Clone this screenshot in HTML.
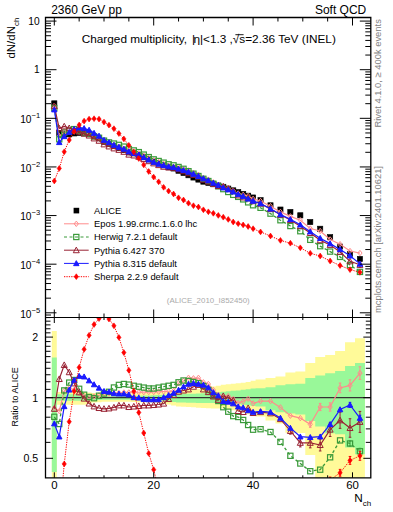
<!DOCTYPE html><html><head><meta charset="utf-8"><style>html,body{margin:0;padding:0;background:#fff;}svg{display:block;font-family:"Liberation Sans",sans-serif;}</style></head><body>
<svg width="393" height="512" viewBox="0 0 393 512">
<defs><clipPath id="cm"><rect x="45.5" y="17.5" width="325.3" height="300.0"/></clipPath>
<clipPath id="cr"><rect x="45.5" y="317.5" width="325.3" height="160.3"/></clipPath></defs>
<g clip-path="url(#cr)">
<path d="M51.81 330.90L56.78 330.90L56.78 392.10L61.75 392.10L61.75 392.10L66.72 392.10L66.72 392.10L71.69 392.10L71.69 392.10L76.66 392.10L76.66 392.10L81.63 392.10L81.63 392.10L86.60 392.10L86.60 392.55L91.57 392.55L91.57 393.00L96.54 393.00L96.54 393.25L101.51 393.25L101.51 393.50L106.48 393.50L106.48 393.50L111.45 393.50L111.45 393.50L116.42 393.50L116.42 393.50L121.39 393.50L121.39 393.50L126.36 393.50L126.36 393.50L131.33 393.50L131.33 393.30L136.31 393.30L136.31 393.10L141.27 393.10L141.27 392.90L146.25 392.90L146.25 392.70L151.21 392.70L151.21 392.50L156.19 392.50L156.19 392.00L161.15 392.00L161.15 391.50L166.12 391.50L166.12 391.17L171.09 391.17L171.09 390.83L176.06 390.83L176.06 390.50L181.03 390.50L181.03 390.21L186.00 390.21L186.00 389.93L190.97 389.93L190.97 389.64L195.94 389.64L195.94 389.08L200.91 389.08L200.91 388.25L205.88 388.25L205.88 387.42L210.85 387.42L210.85 386.56L215.82 386.56L215.82 385.68L220.80 385.68L220.80 384.80L225.76 384.80L225.76 384.30L230.74 384.30L230.74 383.80L235.70 383.80L235.70 383.30L240.68 383.30L240.68 382.77L245.64 382.77L245.64 381.93L250.62 381.93L250.62 380.80L255.58 380.80L255.58 379.40L265.52 379.40L265.52 378.00L275.46 378.00L275.46 376.50L285.40 376.50L285.40 372.60L295.34 372.60L295.34 371.50L305.28 371.50L305.28 363.10L315.23 363.10L315.23 357.10L325.17 357.10L325.17 354.90L335.11 354.90L335.11 351.10L345.05 351.10L345.05 342.30L354.99 342.30L354.99 338.30L364.93 338.30L364.93 479.80L354.99 479.80L354.99 479.80L345.05 479.80L345.05 479.80L335.11 479.80L335.11 479.80L325.17 479.80L325.17 479.80L315.23 479.80L315.23 455.00L305.28 455.00L305.28 433.00L295.34 433.00L295.34 432.70L285.40 432.70L285.40 423.50L275.46 423.50L275.46 420.40L265.52 420.40L265.52 416.40L255.58 416.40L255.58 416.00L250.62 416.00L250.62 414.20L245.64 414.20L245.64 412.53L240.68 412.53L240.68 411.00L235.70 411.00L235.70 410.17L230.74 410.17L230.74 409.33L225.76 409.33L225.76 408.50L220.80 408.50L220.80 408.50L215.82 408.50L215.82 408.50L210.85 408.50L210.85 408.33L205.88 408.33L205.88 408.00L200.91 408.00L200.91 407.67L195.94 407.67L195.94 407.34L190.97 407.34L190.97 407.03L186.00 407.03L186.00 406.71L181.03 406.71L181.03 406.40L176.06 406.40L176.06 405.43L171.09 405.43L171.09 404.47L166.12 404.47L166.12 403.50L161.15 403.50L161.15 403.15L156.19 403.15L156.19 402.80L151.21 402.80L151.21 402.60L146.25 402.60L146.25 402.40L141.27 402.40L141.27 402.20L136.31 402.20L136.31 402.00L131.33 402.00L131.33 401.80L126.36 401.80L126.36 401.80L121.39 401.80L121.39 401.80L116.42 401.80L116.42 401.80L111.45 401.80L111.45 401.80L106.48 401.80L106.48 401.80L101.51 401.80L101.51 402.15L96.54 402.15L96.54 402.50L91.57 402.50L91.57 403.65L86.60 403.65L86.60 404.80L81.63 404.80L81.63 404.80L76.66 404.80L76.66 404.80L71.69 404.80L71.69 404.80L66.72 404.80L66.72 404.80L61.75 404.80L61.75 404.80L56.78 404.80L56.78 479.80L51.81 479.80Z" fill="#fffa99"/>
<path d="M51.81 357.60L56.78 357.60L56.78 394.20L61.75 394.20L61.75 394.20L66.72 394.20L66.72 394.20L71.69 394.20L71.69 394.20L76.66 394.20L76.66 394.20L81.63 394.20L81.63 394.20L86.60 394.20L86.60 394.85L91.57 394.85L91.57 395.50L96.54 395.50L96.54 395.85L101.51 395.85L101.51 396.20L106.48 396.20L106.48 396.20L111.45 396.20L111.45 396.20L116.42 396.20L116.42 396.20L121.39 396.20L121.39 396.20L126.36 396.20L126.36 396.20L131.33 396.20L131.33 396.00L136.31 396.00L136.31 395.80L141.27 395.80L141.27 395.60L146.25 395.60L146.25 395.40L151.21 395.40L151.21 395.20L156.19 395.20L156.19 395.00L161.15 395.00L161.15 394.80L166.12 394.80L166.12 394.43L171.09 394.43L171.09 394.07L176.06 394.07L176.06 393.70L181.03 393.70L181.03 393.70L186.00 393.70L186.00 393.70L190.97 393.70L190.97 393.70L195.94 393.70L195.94 393.58L200.91 393.58L200.91 393.35L205.88 393.35L205.88 393.12L210.85 393.12L210.85 392.74L215.82 392.74L215.82 392.22L220.80 392.22L220.80 391.70L225.76 391.70L225.76 391.27L230.74 391.27L230.74 390.83L235.70 390.83L235.70 390.40L240.68 390.40L240.68 389.80L245.64 389.80L245.64 389.13L250.62 389.13L250.62 388.40L255.58 388.40L255.58 388.20L265.52 388.20L265.52 387.20L275.46 387.20L275.46 385.30L285.40 385.30L285.40 384.30L295.34 384.30L295.34 383.70L305.28 383.70L305.28 378.10L315.23 378.10L315.23 375.50L325.17 375.50L325.17 373.30L335.11 373.30L335.11 371.00L345.05 371.00L345.05 366.00L354.99 366.00L354.99 363.10L364.93 363.10L364.93 454.20L354.99 454.20L354.99 447.60L345.05 447.60L345.05 434.30L335.11 434.30L335.11 433.20L325.17 433.20L325.17 426.60L315.23 426.60L315.23 421.00L305.28 421.00L305.28 414.40L295.34 414.40L295.34 413.50L285.40 413.50L285.40 412.30L275.46 412.30L275.46 410.30L265.52 410.30L265.52 406.50L255.58 406.50L255.58 406.00L250.62 406.00L250.62 405.33L245.64 405.33L245.64 404.67L240.68 404.67L240.68 404.00L235.70 404.00L235.70 403.50L230.74 403.50L230.74 403.00L225.76 403.00L225.76 402.50L220.80 402.50L220.80 402.70L215.82 402.70L215.82 402.90L210.85 402.90L210.85 402.98L205.88 402.98L205.88 402.95L200.91 402.95L200.91 402.92L195.94 402.92L195.94 402.84L190.97 402.84L190.97 402.73L186.00 402.73L186.00 402.61L181.03 402.61L181.03 402.50L176.06 402.50L176.06 401.93L171.09 401.93L171.09 401.37L166.12 401.37L166.12 400.80L161.15 400.80L161.15 400.55L156.19 400.55L156.19 400.30L151.21 400.30L151.21 400.20L146.25 400.20L146.25 400.10L141.27 400.10L141.27 400.00L136.31 400.00L136.31 399.90L131.33 399.90L131.33 399.80L126.36 399.80L126.36 399.80L121.39 399.80L121.39 399.80L116.42 399.80L116.42 399.80L111.45 399.80L111.45 399.80L106.48 399.80L106.48 399.80L101.51 399.80L101.51 399.90L96.54 399.90L96.54 400.00L91.57 400.00L91.57 400.40L86.60 400.40L86.60 400.80L81.63 400.80L81.63 400.80L76.66 400.80L76.66 400.80L71.69 400.80L71.69 400.80L66.72 400.80L66.72 400.80L61.75 400.80L61.75 400.80L56.78 400.80L56.78 472.00L51.81 472.00Z" fill="#99f899"/>
<line x1="45.5" y1="397.70" x2="370.8" y2="397.70" stroke="#333" stroke-width="1.2"/>
</g>
<g clip-path="url(#cr)">
<polyline points="54.30,408.00 59.27,411.00 64.24,390.90 69.21,388.00 74.18,390.00 79.15,393.00 84.12,396.00 89.09,397.00 94.06,396.50 99.03,395.50 104.00,394.00 108.97,393.62 113.94,393.25 118.91,392.88 123.88,392.50 128.85,392.42 133.82,392.33 138.79,392.25 143.76,392.17 148.73,392.08 153.70,392.00 158.67,391.75 163.64,391.50 168.61,391.25 173.58,391.00 178.55,383.20 183.52,381.00 188.49,377.80 193.46,378.30 198.43,377.80 203.40,382.30 208.37,384.00 213.34,390.00 218.31,394.70 223.28,396.00 228.25,396.00 233.22,399.00 238.19,403.00 243.16,401.40 248.13,398.80 253.10,403.40 260.56,401.10 270.50,401.10 280.44,407.40 290.38,415.70 300.31,418.10 310.25,424.30 320.19,407.00 330.13,407.00 340.07,387.90 350.01,385.40 359.95,373.10" fill="none" stroke="#ff8c8c" stroke-width="1.2"/>
<path d="M310.25 421.29V427.31M308.95 421.29H311.56M308.95 427.31H311.56M320.19 403.43V410.57M318.89 403.43H321.50M318.89 410.57H321.50M330.13 402.87V411.13M328.83 402.87H331.44M328.83 411.13H331.44M340.07 383.07V392.73M338.77 383.07H341.38M338.77 392.73H341.38M350.01 379.82V390.98M348.71 379.82H351.31M348.71 390.98H351.31M359.95 366.78V379.42M358.65 366.78H361.25M358.65 379.42H361.25" stroke="#ff8c8c" stroke-width="1" fill="none"/>
<path d="M54.30 405.30L56.40 408.00L54.30 410.70L52.20 408.00Z" fill="none" stroke="#ff8c8c" stroke-width="1"/>
<path d="M59.27 408.30L61.37 411.00L59.27 413.70L57.17 411.00Z" fill="none" stroke="#ff8c8c" stroke-width="1"/>
<path d="M64.24 388.20L66.34 390.90L64.24 393.60L62.14 390.90Z" fill="none" stroke="#ff8c8c" stroke-width="1"/>
<path d="M69.21 385.30L71.31 388.00L69.21 390.70L67.11 388.00Z" fill="none" stroke="#ff8c8c" stroke-width="1"/>
<path d="M74.18 387.30L76.28 390.00L74.18 392.70L72.08 390.00Z" fill="none" stroke="#ff8c8c" stroke-width="1"/>
<path d="M79.15 390.30L81.25 393.00L79.15 395.70L77.05 393.00Z" fill="none" stroke="#ff8c8c" stroke-width="1"/>
<path d="M84.12 393.30L86.22 396.00L84.12 398.70L82.02 396.00Z" fill="none" stroke="#ff8c8c" stroke-width="1"/>
<path d="M89.09 394.30L91.19 397.00L89.09 399.70L86.99 397.00Z" fill="none" stroke="#ff8c8c" stroke-width="1"/>
<path d="M94.06 393.80L96.16 396.50L94.06 399.20L91.96 396.50Z" fill="none" stroke="#ff8c8c" stroke-width="1"/>
<path d="M99.03 392.80L101.13 395.50L99.03 398.20L96.93 395.50Z" fill="none" stroke="#ff8c8c" stroke-width="1"/>
<path d="M104.00 391.30L106.10 394.00L104.00 396.70L101.90 394.00Z" fill="none" stroke="#ff8c8c" stroke-width="1"/>
<path d="M108.97 390.93L111.07 393.62L108.97 396.32L106.87 393.62Z" fill="none" stroke="#ff8c8c" stroke-width="1"/>
<path d="M113.94 390.55L116.04 393.25L113.94 395.95L111.84 393.25Z" fill="none" stroke="#ff8c8c" stroke-width="1"/>
<path d="M118.91 390.18L121.01 392.88L118.91 395.57L116.81 392.88Z" fill="none" stroke="#ff8c8c" stroke-width="1"/>
<path d="M123.88 389.80L125.98 392.50L123.88 395.20L121.78 392.50Z" fill="none" stroke="#ff8c8c" stroke-width="1"/>
<path d="M128.85 389.72L130.95 392.42L128.85 395.12L126.75 392.42Z" fill="none" stroke="#ff8c8c" stroke-width="1"/>
<path d="M133.82 389.63L135.92 392.33L133.82 395.03L131.72 392.33Z" fill="none" stroke="#ff8c8c" stroke-width="1"/>
<path d="M138.79 389.55L140.89 392.25L138.79 394.95L136.69 392.25Z" fill="none" stroke="#ff8c8c" stroke-width="1"/>
<path d="M143.76 389.47L145.86 392.17L143.76 394.87L141.66 392.17Z" fill="none" stroke="#ff8c8c" stroke-width="1"/>
<path d="M148.73 389.38L150.83 392.08L148.73 394.78L146.63 392.08Z" fill="none" stroke="#ff8c8c" stroke-width="1"/>
<path d="M153.70 389.30L155.80 392.00L153.70 394.70L151.60 392.00Z" fill="none" stroke="#ff8c8c" stroke-width="1"/>
<path d="M158.67 389.05L160.77 391.75L158.67 394.45L156.57 391.75Z" fill="none" stroke="#ff8c8c" stroke-width="1"/>
<path d="M163.64 388.80L165.74 391.50L163.64 394.20L161.54 391.50Z" fill="none" stroke="#ff8c8c" stroke-width="1"/>
<path d="M168.61 388.55L170.71 391.25L168.61 393.95L166.51 391.25Z" fill="none" stroke="#ff8c8c" stroke-width="1"/>
<path d="M173.58 388.30L175.68 391.00L173.58 393.70L171.48 391.00Z" fill="none" stroke="#ff8c8c" stroke-width="1"/>
<path d="M178.55 380.50L180.65 383.20L178.55 385.90L176.45 383.20Z" fill="none" stroke="#ff8c8c" stroke-width="1"/>
<path d="M183.52 378.30L185.62 381.00L183.52 383.70L181.42 381.00Z" fill="none" stroke="#ff8c8c" stroke-width="1"/>
<path d="M188.49 375.10L190.59 377.80L188.49 380.50L186.39 377.80Z" fill="none" stroke="#ff8c8c" stroke-width="1"/>
<path d="M193.46 375.60L195.56 378.30L193.46 381.00L191.36 378.30Z" fill="none" stroke="#ff8c8c" stroke-width="1"/>
<path d="M198.43 375.10L200.53 377.80L198.43 380.50L196.33 377.80Z" fill="none" stroke="#ff8c8c" stroke-width="1"/>
<path d="M203.40 379.60L205.50 382.30L203.40 385.00L201.30 382.30Z" fill="none" stroke="#ff8c8c" stroke-width="1"/>
<path d="M208.37 381.30L210.47 384.00L208.37 386.70L206.27 384.00Z" fill="none" stroke="#ff8c8c" stroke-width="1"/>
<path d="M213.34 387.30L215.44 390.00L213.34 392.70L211.24 390.00Z" fill="none" stroke="#ff8c8c" stroke-width="1"/>
<path d="M218.31 392.00L220.41 394.70L218.31 397.40L216.21 394.70Z" fill="none" stroke="#ff8c8c" stroke-width="1"/>
<path d="M223.28 393.30L225.38 396.00L223.28 398.70L221.18 396.00Z" fill="none" stroke="#ff8c8c" stroke-width="1"/>
<path d="M228.25 393.30L230.35 396.00L228.25 398.70L226.15 396.00Z" fill="none" stroke="#ff8c8c" stroke-width="1"/>
<path d="M233.22 396.30L235.32 399.00L233.22 401.70L231.12 399.00Z" fill="none" stroke="#ff8c8c" stroke-width="1"/>
<path d="M238.19 400.30L240.29 403.00L238.19 405.70L236.09 403.00Z" fill="none" stroke="#ff8c8c" stroke-width="1"/>
<path d="M243.16 398.70L245.26 401.40L243.16 404.10L241.06 401.40Z" fill="none" stroke="#ff8c8c" stroke-width="1"/>
<path d="M248.13 396.10L250.23 398.80L248.13 401.50L246.03 398.80Z" fill="none" stroke="#ff8c8c" stroke-width="1"/>
<path d="M253.10 400.70L255.20 403.40L253.10 406.10L251.00 403.40Z" fill="none" stroke="#ff8c8c" stroke-width="1"/>
<path d="M260.56 398.40L262.66 401.10L260.56 403.80L258.45 401.10Z" fill="none" stroke="#ff8c8c" stroke-width="1"/>
<path d="M270.50 398.40L272.60 401.10L270.50 403.80L268.39 401.10Z" fill="none" stroke="#ff8c8c" stroke-width="1"/>
<path d="M280.44 404.70L282.54 407.40L280.44 410.10L278.33 407.40Z" fill="none" stroke="#ff8c8c" stroke-width="1"/>
<path d="M290.38 413.00L292.48 415.70L290.38 418.40L288.27 415.70Z" fill="none" stroke="#ff8c8c" stroke-width="1"/>
<path d="M300.31 415.40L302.42 418.10L300.31 420.80L298.21 418.10Z" fill="none" stroke="#ff8c8c" stroke-width="1"/>
<path d="M310.25 421.60L312.36 424.30L310.25 427.00L308.15 424.30Z" fill="none" stroke="#ff8c8c" stroke-width="1"/>
<path d="M320.19 404.30L322.30 407.00L320.19 409.70L318.09 407.00Z" fill="none" stroke="#ff8c8c" stroke-width="1"/>
<path d="M330.13 404.30L332.24 407.00L330.13 409.70L328.03 407.00Z" fill="none" stroke="#ff8c8c" stroke-width="1"/>
<path d="M340.07 385.20L342.18 387.90L340.07 390.60L337.97 387.90Z" fill="none" stroke="#ff8c8c" stroke-width="1"/>
<path d="M350.01 382.70L352.12 385.40L350.01 388.10L347.91 385.40Z" fill="none" stroke="#ff8c8c" stroke-width="1"/>
<path d="M359.95 370.40L362.06 373.10L359.95 375.80L357.85 373.10Z" fill="none" stroke="#ff8c8c" stroke-width="1"/>
<polyline points="54.30,416.80 59.27,424.00 64.24,390.40 69.21,382.60 74.18,380.00 79.15,388.80 84.12,394.70 89.09,397.00 94.06,398.20 99.03,395.70 104.00,393.50 108.97,391.80 113.94,387.50 118.91,384.90 123.88,384.00 128.85,384.60 133.82,385.80 138.79,386.70 143.76,387.60 148.73,388.50 153.70,388.50 158.67,387.60 163.64,386.70 168.61,385.80 173.58,384.90 178.55,382.30 183.52,380.50 188.49,381.00 193.46,382.00 198.43,383.20 203.40,386.00 208.37,390.00 213.34,395.60 218.31,401.00 223.28,407.20 228.25,411.70 233.22,416.10 238.19,417.00 243.16,420.00 248.13,425.00 253.10,429.70 260.56,429.20 270.50,432.00 280.44,441.90 290.38,455.80 300.31,463.50 310.25,471.20 320.19,469.70 330.13,457.30 340.07,440.40 350.01,443.50 359.95,451.20" fill="none" stroke="#3a9a3a" stroke-width="1.3" stroke-dasharray="3,2.5"/>
<path d="M350.01 440.94V446.06M348.71 440.94H351.31M348.71 446.06H351.31M359.95 448.30V454.10M358.65 448.30H361.25M358.65 454.10H361.25" stroke="#3a9a3a" stroke-width="1" fill="none"/>
<rect x="51.70" y="414.20" width="5.20" height="5.20" fill="none" stroke="#3a9a3a" stroke-width="1.2"/>
<rect x="56.67" y="421.40" width="5.20" height="5.20" fill="none" stroke="#3a9a3a" stroke-width="1.2"/>
<rect x="61.64" y="387.80" width="5.20" height="5.20" fill="none" stroke="#3a9a3a" stroke-width="1.2"/>
<rect x="66.61" y="380.00" width="5.20" height="5.20" fill="none" stroke="#3a9a3a" stroke-width="1.2"/>
<rect x="71.58" y="377.40" width="5.20" height="5.20" fill="none" stroke="#3a9a3a" stroke-width="1.2"/>
<rect x="76.55" y="386.20" width="5.20" height="5.20" fill="none" stroke="#3a9a3a" stroke-width="1.2"/>
<rect x="81.52" y="392.10" width="5.20" height="5.20" fill="none" stroke="#3a9a3a" stroke-width="1.2"/>
<rect x="86.49" y="394.40" width="5.20" height="5.20" fill="none" stroke="#3a9a3a" stroke-width="1.2"/>
<rect x="91.46" y="395.60" width="5.20" height="5.20" fill="none" stroke="#3a9a3a" stroke-width="1.2"/>
<rect x="96.43" y="393.10" width="5.20" height="5.20" fill="none" stroke="#3a9a3a" stroke-width="1.2"/>
<rect x="101.40" y="390.90" width="5.20" height="5.20" fill="none" stroke="#3a9a3a" stroke-width="1.2"/>
<rect x="106.37" y="389.20" width="5.20" height="5.20" fill="none" stroke="#3a9a3a" stroke-width="1.2"/>
<rect x="111.34" y="384.90" width="5.20" height="5.20" fill="none" stroke="#3a9a3a" stroke-width="1.2"/>
<rect x="116.31" y="382.30" width="5.20" height="5.20" fill="none" stroke="#3a9a3a" stroke-width="1.2"/>
<rect x="121.28" y="381.40" width="5.20" height="5.20" fill="none" stroke="#3a9a3a" stroke-width="1.2"/>
<rect x="126.25" y="382.00" width="5.20" height="5.20" fill="none" stroke="#3a9a3a" stroke-width="1.2"/>
<rect x="131.22" y="383.20" width="5.20" height="5.20" fill="none" stroke="#3a9a3a" stroke-width="1.2"/>
<rect x="136.19" y="384.10" width="5.20" height="5.20" fill="none" stroke="#3a9a3a" stroke-width="1.2"/>
<rect x="141.16" y="385.00" width="5.20" height="5.20" fill="none" stroke="#3a9a3a" stroke-width="1.2"/>
<rect x="146.13" y="385.90" width="5.20" height="5.20" fill="none" stroke="#3a9a3a" stroke-width="1.2"/>
<rect x="151.10" y="385.90" width="5.20" height="5.20" fill="none" stroke="#3a9a3a" stroke-width="1.2"/>
<rect x="156.07" y="385.00" width="5.20" height="5.20" fill="none" stroke="#3a9a3a" stroke-width="1.2"/>
<rect x="161.04" y="384.10" width="5.20" height="5.20" fill="none" stroke="#3a9a3a" stroke-width="1.2"/>
<rect x="166.01" y="383.20" width="5.20" height="5.20" fill="none" stroke="#3a9a3a" stroke-width="1.2"/>
<rect x="170.98" y="382.30" width="5.20" height="5.20" fill="none" stroke="#3a9a3a" stroke-width="1.2"/>
<rect x="175.95" y="379.70" width="5.20" height="5.20" fill="none" stroke="#3a9a3a" stroke-width="1.2"/>
<rect x="180.92" y="377.90" width="5.20" height="5.20" fill="none" stroke="#3a9a3a" stroke-width="1.2"/>
<rect x="185.89" y="378.40" width="5.20" height="5.20" fill="none" stroke="#3a9a3a" stroke-width="1.2"/>
<rect x="190.86" y="379.40" width="5.20" height="5.20" fill="none" stroke="#3a9a3a" stroke-width="1.2"/>
<rect x="195.83" y="380.60" width="5.20" height="5.20" fill="none" stroke="#3a9a3a" stroke-width="1.2"/>
<rect x="200.80" y="383.40" width="5.20" height="5.20" fill="none" stroke="#3a9a3a" stroke-width="1.2"/>
<rect x="205.77" y="387.40" width="5.20" height="5.20" fill="none" stroke="#3a9a3a" stroke-width="1.2"/>
<rect x="210.74" y="393.00" width="5.20" height="5.20" fill="none" stroke="#3a9a3a" stroke-width="1.2"/>
<rect x="215.71" y="398.40" width="5.20" height="5.20" fill="none" stroke="#3a9a3a" stroke-width="1.2"/>
<rect x="220.68" y="404.60" width="5.20" height="5.20" fill="none" stroke="#3a9a3a" stroke-width="1.2"/>
<rect x="225.65" y="409.10" width="5.20" height="5.20" fill="none" stroke="#3a9a3a" stroke-width="1.2"/>
<rect x="230.62" y="413.50" width="5.20" height="5.20" fill="none" stroke="#3a9a3a" stroke-width="1.2"/>
<rect x="235.59" y="414.40" width="5.20" height="5.20" fill="none" stroke="#3a9a3a" stroke-width="1.2"/>
<rect x="240.56" y="417.40" width="5.20" height="5.20" fill="none" stroke="#3a9a3a" stroke-width="1.2"/>
<rect x="245.53" y="422.40" width="5.20" height="5.20" fill="none" stroke="#3a9a3a" stroke-width="1.2"/>
<rect x="250.50" y="427.10" width="5.20" height="5.20" fill="none" stroke="#3a9a3a" stroke-width="1.2"/>
<rect x="257.95" y="426.60" width="5.20" height="5.20" fill="none" stroke="#3a9a3a" stroke-width="1.2"/>
<rect x="267.89" y="429.40" width="5.20" height="5.20" fill="none" stroke="#3a9a3a" stroke-width="1.2"/>
<rect x="277.83" y="439.30" width="5.20" height="5.20" fill="none" stroke="#3a9a3a" stroke-width="1.2"/>
<rect x="287.77" y="453.20" width="5.20" height="5.20" fill="none" stroke="#3a9a3a" stroke-width="1.2"/>
<rect x="297.71" y="460.90" width="5.20" height="5.20" fill="none" stroke="#3a9a3a" stroke-width="1.2"/>
<rect x="307.65" y="468.60" width="5.20" height="5.20" fill="none" stroke="#3a9a3a" stroke-width="1.2"/>
<rect x="317.59" y="467.10" width="5.20" height="5.20" fill="none" stroke="#3a9a3a" stroke-width="1.2"/>
<rect x="327.53" y="454.70" width="5.20" height="5.20" fill="none" stroke="#3a9a3a" stroke-width="1.2"/>
<rect x="337.47" y="437.80" width="5.20" height="5.20" fill="none" stroke="#3a9a3a" stroke-width="1.2"/>
<rect x="347.41" y="440.90" width="5.20" height="5.20" fill="none" stroke="#3a9a3a" stroke-width="1.2"/>
<rect x="357.35" y="448.60" width="5.20" height="5.20" fill="none" stroke="#3a9a3a" stroke-width="1.2"/>
<polyline points="54.30,408.80 59.27,379.00 64.24,365.00 69.21,372.20 74.18,383.40 79.15,392.30 84.12,398.60 89.09,403.50 94.06,406.40 99.03,408.00 104.00,408.80 108.97,408.40 113.94,407.40 118.91,405.40 123.88,405.40 128.85,407.00 133.82,406.50 138.79,406.00 143.76,405.40 148.73,405.40 153.70,405.00 158.67,404.50 163.64,403.60 168.61,399.00 173.58,395.00 178.55,391.70 183.52,390.50 188.49,389.40 193.46,386.70 198.43,384.90 203.40,389.40 208.37,392.10 213.34,396.50 218.31,399.80 223.28,396.00 228.25,398.00 233.22,400.40 238.19,411.00 243.16,412.00 248.13,408.00 253.10,413.00 260.56,412.10 270.50,413.30 280.44,419.10 290.38,431.00 300.31,442.80 310.25,442.80 320.19,445.00 330.13,429.60 340.07,420.30 350.01,428.00 359.95,421.90" fill="none" stroke="#992233" stroke-width="1.15"/>
<path d="M290.38 427.84V434.16M289.07 427.84H291.68M289.07 434.16H291.68M300.31 438.69V446.91M299.01 438.69H301.62M299.01 446.91H301.62M310.25 437.75V447.85M308.95 437.75H311.56M308.95 447.85H311.56M320.19 439.02V450.98M318.89 439.02H321.50M318.89 450.98H321.50M330.13 422.70V436.50M328.83 422.70H331.44M328.83 436.50H331.44M340.07 412.24V428.36M338.77 412.24H341.38M338.77 428.36H341.38M350.01 418.72V437.28M348.71 418.72H351.31M348.71 437.28H351.31M359.95 411.41V432.39M358.65 411.41H361.25M358.65 432.39H361.25" stroke="#992233" stroke-width="1" fill="none"/>
<path d="M54.30 405.72L51.30 411.32L57.30 411.32Z" fill="none" stroke="#992233" stroke-width="1"/>
<path d="M59.27 375.92L56.27 381.52L62.27 381.52Z" fill="none" stroke="#992233" stroke-width="1"/>
<path d="M64.24 361.92L61.24 367.52L67.24 367.52Z" fill="none" stroke="#992233" stroke-width="1"/>
<path d="M69.21 369.12L66.21 374.72L72.21 374.72Z" fill="none" stroke="#992233" stroke-width="1"/>
<path d="M74.18 380.32L71.18 385.92L77.18 385.92Z" fill="none" stroke="#992233" stroke-width="1"/>
<path d="M79.15 389.22L76.15 394.82L82.15 394.82Z" fill="none" stroke="#992233" stroke-width="1"/>
<path d="M84.12 395.52L81.12 401.12L87.12 401.12Z" fill="none" stroke="#992233" stroke-width="1"/>
<path d="M89.09 400.42L86.09 406.02L92.09 406.02Z" fill="none" stroke="#992233" stroke-width="1"/>
<path d="M94.06 403.32L91.06 408.92L97.06 408.92Z" fill="none" stroke="#992233" stroke-width="1"/>
<path d="M99.03 404.92L96.03 410.52L102.03 410.52Z" fill="none" stroke="#992233" stroke-width="1"/>
<path d="M104.00 405.72L101.00 411.32L107.00 411.32Z" fill="none" stroke="#992233" stroke-width="1"/>
<path d="M108.97 405.32L105.97 410.92L111.97 410.92Z" fill="none" stroke="#992233" stroke-width="1"/>
<path d="M113.94 404.32L110.94 409.92L116.94 409.92Z" fill="none" stroke="#992233" stroke-width="1"/>
<path d="M118.91 402.32L115.91 407.92L121.91 407.92Z" fill="none" stroke="#992233" stroke-width="1"/>
<path d="M123.88 402.32L120.88 407.92L126.88 407.92Z" fill="none" stroke="#992233" stroke-width="1"/>
<path d="M128.85 403.92L125.85 409.52L131.85 409.52Z" fill="none" stroke="#992233" stroke-width="1"/>
<path d="M133.82 403.42L130.82 409.02L136.82 409.02Z" fill="none" stroke="#992233" stroke-width="1"/>
<path d="M138.79 402.92L135.79 408.52L141.79 408.52Z" fill="none" stroke="#992233" stroke-width="1"/>
<path d="M143.76 402.32L140.76 407.92L146.76 407.92Z" fill="none" stroke="#992233" stroke-width="1"/>
<path d="M148.73 402.32L145.73 407.92L151.73 407.92Z" fill="none" stroke="#992233" stroke-width="1"/>
<path d="M153.70 401.92L150.70 407.52L156.70 407.52Z" fill="none" stroke="#992233" stroke-width="1"/>
<path d="M158.67 401.42L155.67 407.02L161.67 407.02Z" fill="none" stroke="#992233" stroke-width="1"/>
<path d="M163.64 400.52L160.64 406.12L166.64 406.12Z" fill="none" stroke="#992233" stroke-width="1"/>
<path d="M168.61 395.92L165.61 401.52L171.61 401.52Z" fill="none" stroke="#992233" stroke-width="1"/>
<path d="M173.58 391.92L170.58 397.52L176.58 397.52Z" fill="none" stroke="#992233" stroke-width="1"/>
<path d="M178.55 388.62L175.55 394.22L181.55 394.22Z" fill="none" stroke="#992233" stroke-width="1"/>
<path d="M183.52 387.42L180.52 393.02L186.52 393.02Z" fill="none" stroke="#992233" stroke-width="1"/>
<path d="M188.49 386.32L185.49 391.92L191.49 391.92Z" fill="none" stroke="#992233" stroke-width="1"/>
<path d="M193.46 383.62L190.46 389.22L196.46 389.22Z" fill="none" stroke="#992233" stroke-width="1"/>
<path d="M198.43 381.82L195.43 387.42L201.43 387.42Z" fill="none" stroke="#992233" stroke-width="1"/>
<path d="M203.40 386.32L200.40 391.92L206.40 391.92Z" fill="none" stroke="#992233" stroke-width="1"/>
<path d="M208.37 389.02L205.37 394.62L211.37 394.62Z" fill="none" stroke="#992233" stroke-width="1"/>
<path d="M213.34 393.42L210.34 399.02L216.34 399.02Z" fill="none" stroke="#992233" stroke-width="1"/>
<path d="M218.31 396.72L215.31 402.32L221.31 402.32Z" fill="none" stroke="#992233" stroke-width="1"/>
<path d="M223.28 392.92L220.28 398.52L226.28 398.52Z" fill="none" stroke="#992233" stroke-width="1"/>
<path d="M228.25 394.92L225.25 400.52L231.25 400.52Z" fill="none" stroke="#992233" stroke-width="1"/>
<path d="M233.22 397.32L230.22 402.92L236.22 402.92Z" fill="none" stroke="#992233" stroke-width="1"/>
<path d="M238.19 407.92L235.19 413.52L241.19 413.52Z" fill="none" stroke="#992233" stroke-width="1"/>
<path d="M243.16 408.92L240.16 414.52L246.16 414.52Z" fill="none" stroke="#992233" stroke-width="1"/>
<path d="M248.13 404.92L245.13 410.52L251.13 410.52Z" fill="none" stroke="#992233" stroke-width="1"/>
<path d="M253.10 409.92L250.10 415.52L256.10 415.52Z" fill="none" stroke="#992233" stroke-width="1"/>
<path d="M260.56 409.02L257.56 414.62L263.56 414.62Z" fill="none" stroke="#992233" stroke-width="1"/>
<path d="M270.50 410.22L267.50 415.82L273.50 415.82Z" fill="none" stroke="#992233" stroke-width="1"/>
<path d="M280.44 416.02L277.44 421.62L283.44 421.62Z" fill="none" stroke="#992233" stroke-width="1"/>
<path d="M290.38 427.92L287.38 433.52L293.38 433.52Z" fill="none" stroke="#992233" stroke-width="1"/>
<path d="M300.31 439.72L297.31 445.32L303.31 445.32Z" fill="none" stroke="#992233" stroke-width="1"/>
<path d="M310.25 439.72L307.25 445.32L313.25 445.32Z" fill="none" stroke="#992233" stroke-width="1"/>
<path d="M320.19 441.92L317.19 447.52L323.19 447.52Z" fill="none" stroke="#992233" stroke-width="1"/>
<path d="M330.13 426.52L327.13 432.12L333.13 432.12Z" fill="none" stroke="#992233" stroke-width="1"/>
<path d="M340.07 417.22L337.07 422.82L343.07 422.82Z" fill="none" stroke="#992233" stroke-width="1"/>
<path d="M350.01 424.92L347.01 430.52L353.01 430.52Z" fill="none" stroke="#992233" stroke-width="1"/>
<path d="M359.95 418.82L356.95 424.42L362.95 424.42Z" fill="none" stroke="#992233" stroke-width="1"/>
<polyline points="54.30,423.60 59.27,436.70 64.24,406.40 69.21,389.80 74.18,380.00 79.15,376.10 84.12,376.70 89.09,380.60 94.06,384.50 99.03,387.90 104.00,391.20 108.97,391.80 113.94,393.50 118.91,393.80 123.88,393.80 128.85,394.70 133.82,397.40 138.79,397.80 143.76,399.20 148.73,399.50 153.70,399.50 158.67,399.50 163.64,397.40 168.61,395.30 173.58,393.00 178.55,390.00 183.52,386.70 188.49,384.00 193.46,383.20 198.43,384.00 203.40,384.90 208.37,387.60 213.34,392.40 218.31,395.60 223.28,401.30 228.25,401.90 233.22,403.60 238.19,406.70 243.16,407.60 248.13,410.50 253.10,412.10 260.56,411.40 270.50,412.10 280.44,418.00 290.38,428.00 300.31,436.70 310.25,437.30 320.19,436.70 330.13,424.30 340.07,409.50 350.01,404.90 359.95,418.10" fill="none" stroke="#1a1aff" stroke-width="1.2"/>
<path d="M350.01 402.34V407.46M348.71 402.34H351.31M348.71 407.46H351.31M359.95 415.20V421.00M358.65 415.20H361.25M358.65 421.00H361.25" stroke="#1a1aff" stroke-width="1" fill="none"/>
<path d="M54.30 420.85L51.60 425.85L57.00 425.85Z" fill="#1a1aff" stroke="#1a1aff" stroke-width="1"/>
<path d="M59.27 433.95L56.57 438.95L61.97 438.95Z" fill="#1a1aff" stroke="#1a1aff" stroke-width="1"/>
<path d="M64.24 403.65L61.54 408.65L66.94 408.65Z" fill="#1a1aff" stroke="#1a1aff" stroke-width="1"/>
<path d="M69.21 387.05L66.51 392.05L71.91 392.05Z" fill="#1a1aff" stroke="#1a1aff" stroke-width="1"/>
<path d="M74.18 377.25L71.48 382.25L76.88 382.25Z" fill="#1a1aff" stroke="#1a1aff" stroke-width="1"/>
<path d="M79.15 373.35L76.45 378.35L81.85 378.35Z" fill="#1a1aff" stroke="#1a1aff" stroke-width="1"/>
<path d="M84.12 373.95L81.42 378.95L86.82 378.95Z" fill="#1a1aff" stroke="#1a1aff" stroke-width="1"/>
<path d="M89.09 377.85L86.39 382.85L91.79 382.85Z" fill="#1a1aff" stroke="#1a1aff" stroke-width="1"/>
<path d="M94.06 381.75L91.36 386.75L96.76 386.75Z" fill="#1a1aff" stroke="#1a1aff" stroke-width="1"/>
<path d="M99.03 385.15L96.33 390.15L101.73 390.15Z" fill="#1a1aff" stroke="#1a1aff" stroke-width="1"/>
<path d="M104.00 388.45L101.30 393.45L106.70 393.45Z" fill="#1a1aff" stroke="#1a1aff" stroke-width="1"/>
<path d="M108.97 389.05L106.27 394.05L111.67 394.05Z" fill="#1a1aff" stroke="#1a1aff" stroke-width="1"/>
<path d="M113.94 390.75L111.24 395.75L116.64 395.75Z" fill="#1a1aff" stroke="#1a1aff" stroke-width="1"/>
<path d="M118.91 391.05L116.21 396.05L121.61 396.05Z" fill="#1a1aff" stroke="#1a1aff" stroke-width="1"/>
<path d="M123.88 391.05L121.18 396.05L126.58 396.05Z" fill="#1a1aff" stroke="#1a1aff" stroke-width="1"/>
<path d="M128.85 391.95L126.15 396.95L131.55 396.95Z" fill="#1a1aff" stroke="#1a1aff" stroke-width="1"/>
<path d="M133.82 394.65L131.12 399.65L136.52 399.65Z" fill="#1a1aff" stroke="#1a1aff" stroke-width="1"/>
<path d="M138.79 395.05L136.09 400.05L141.49 400.05Z" fill="#1a1aff" stroke="#1a1aff" stroke-width="1"/>
<path d="M143.76 396.45L141.06 401.45L146.46 401.45Z" fill="#1a1aff" stroke="#1a1aff" stroke-width="1"/>
<path d="M148.73 396.75L146.03 401.75L151.43 401.75Z" fill="#1a1aff" stroke="#1a1aff" stroke-width="1"/>
<path d="M153.70 396.75L151.00 401.75L156.40 401.75Z" fill="#1a1aff" stroke="#1a1aff" stroke-width="1"/>
<path d="M158.67 396.75L155.97 401.75L161.37 401.75Z" fill="#1a1aff" stroke="#1a1aff" stroke-width="1"/>
<path d="M163.64 394.65L160.94 399.65L166.34 399.65Z" fill="#1a1aff" stroke="#1a1aff" stroke-width="1"/>
<path d="M168.61 392.55L165.91 397.55L171.31 397.55Z" fill="#1a1aff" stroke="#1a1aff" stroke-width="1"/>
<path d="M173.58 390.25L170.88 395.25L176.28 395.25Z" fill="#1a1aff" stroke="#1a1aff" stroke-width="1"/>
<path d="M178.55 387.25L175.85 392.25L181.25 392.25Z" fill="#1a1aff" stroke="#1a1aff" stroke-width="1"/>
<path d="M183.52 383.95L180.82 388.95L186.22 388.95Z" fill="#1a1aff" stroke="#1a1aff" stroke-width="1"/>
<path d="M188.49 381.25L185.79 386.25L191.19 386.25Z" fill="#1a1aff" stroke="#1a1aff" stroke-width="1"/>
<path d="M193.46 380.45L190.76 385.45L196.16 385.45Z" fill="#1a1aff" stroke="#1a1aff" stroke-width="1"/>
<path d="M198.43 381.25L195.73 386.25L201.13 386.25Z" fill="#1a1aff" stroke="#1a1aff" stroke-width="1"/>
<path d="M203.40 382.15L200.70 387.15L206.10 387.15Z" fill="#1a1aff" stroke="#1a1aff" stroke-width="1"/>
<path d="M208.37 384.85L205.67 389.85L211.07 389.85Z" fill="#1a1aff" stroke="#1a1aff" stroke-width="1"/>
<path d="M213.34 389.65L210.64 394.65L216.04 394.65Z" fill="#1a1aff" stroke="#1a1aff" stroke-width="1"/>
<path d="M218.31 392.85L215.61 397.85L221.01 397.85Z" fill="#1a1aff" stroke="#1a1aff" stroke-width="1"/>
<path d="M223.28 398.55L220.58 403.55L225.98 403.55Z" fill="#1a1aff" stroke="#1a1aff" stroke-width="1"/>
<path d="M228.25 399.15L225.55 404.15L230.95 404.15Z" fill="#1a1aff" stroke="#1a1aff" stroke-width="1"/>
<path d="M233.22 400.85L230.52 405.85L235.92 405.85Z" fill="#1a1aff" stroke="#1a1aff" stroke-width="1"/>
<path d="M238.19 403.95L235.49 408.95L240.89 408.95Z" fill="#1a1aff" stroke="#1a1aff" stroke-width="1"/>
<path d="M243.16 404.85L240.46 409.85L245.86 409.85Z" fill="#1a1aff" stroke="#1a1aff" stroke-width="1"/>
<path d="M248.13 407.75L245.43 412.75L250.83 412.75Z" fill="#1a1aff" stroke="#1a1aff" stroke-width="1"/>
<path d="M253.10 409.35L250.40 414.35L255.80 414.35Z" fill="#1a1aff" stroke="#1a1aff" stroke-width="1"/>
<path d="M260.56 408.65L257.86 413.65L263.25 413.65Z" fill="#1a1aff" stroke="#1a1aff" stroke-width="1"/>
<path d="M270.50 409.35L267.80 414.35L273.19 414.35Z" fill="#1a1aff" stroke="#1a1aff" stroke-width="1"/>
<path d="M280.44 415.25L277.74 420.25L283.13 420.25Z" fill="#1a1aff" stroke="#1a1aff" stroke-width="1"/>
<path d="M290.38 425.25L287.68 430.25L293.07 430.25Z" fill="#1a1aff" stroke="#1a1aff" stroke-width="1"/>
<path d="M300.31 433.95L297.62 438.95L303.01 438.95Z" fill="#1a1aff" stroke="#1a1aff" stroke-width="1"/>
<path d="M310.25 434.55L307.56 439.55L312.95 439.55Z" fill="#1a1aff" stroke="#1a1aff" stroke-width="1"/>
<path d="M320.19 433.95L317.50 438.95L322.89 438.95Z" fill="#1a1aff" stroke="#1a1aff" stroke-width="1"/>
<path d="M330.13 421.55L327.44 426.55L332.83 426.55Z" fill="#1a1aff" stroke="#1a1aff" stroke-width="1"/>
<path d="M340.07 406.75L337.38 411.75L342.77 411.75Z" fill="#1a1aff" stroke="#1a1aff" stroke-width="1"/>
<path d="M350.01 402.15L347.31 407.15L352.71 407.15Z" fill="#1a1aff" stroke="#1a1aff" stroke-width="1"/>
<path d="M359.95 415.35L357.25 420.35L362.65 420.35Z" fill="#1a1aff" stroke="#1a1aff" stroke-width="1"/>
<polyline points="54.30,560.00 59.27,520.00 64.24,463.90 69.21,421.70 74.18,391.20 79.15,367.40 84.12,349.30 89.09,335.30 94.06,324.50 99.03,318.60 104.00,312.00 108.97,319.00 113.94,325.80 118.91,337.40 123.88,352.60 128.85,370.30 133.82,391.20 138.79,412.50 143.76,433.00 148.73,453.40 153.70,469.70 158.67,490.00 163.64,510.00 168.61,530.00 173.58,550.00 178.55,570.00 183.52,584.00 188.49,598.00 193.46,612.00 198.43,626.00 203.40,640.00 208.37,646.00 213.34,652.00 218.31,658.00 223.28,664.00 228.25,670.00 233.22,676.00 238.19,682.00 243.16,688.00 248.13,694.00 253.10,700.00 260.56,672.00 270.50,634.67 280.44,597.33 290.38,560.00 300.31,530.00 310.25,505.00 320.19,488.00 330.13,480.00 340.07,472.80 350.01,460.40 359.95,455.80" fill="none" stroke="#ff0000" stroke-width="1.0" stroke-dasharray="1.3,1.1"/>
<path d="M320.19 485.49V490.51M318.89 485.49H321.50M318.89 490.51H321.50M330.13 477.09V482.91M328.83 477.09H331.44M328.83 482.91H331.44M340.07 469.39V476.21M338.77 469.39H341.38M338.77 476.21H341.38M350.01 456.46V464.34M348.71 456.46H351.31M348.71 464.34H351.31M359.95 451.33V460.27M358.65 451.33H361.25M358.65 460.27H361.25" stroke="#ff0000" stroke-width="1" fill="none"/>
<path d="M54.30 557.10L56.40 560.00L54.30 562.90L52.20 560.00Z" fill="#ff0000" stroke="#ff0000" stroke-width="0.6"/>
<path d="M59.27 517.10L61.37 520.00L59.27 522.90L57.17 520.00Z" fill="#ff0000" stroke="#ff0000" stroke-width="0.6"/>
<path d="M64.24 461.00L66.34 463.90L64.24 466.80L62.14 463.90Z" fill="#ff0000" stroke="#ff0000" stroke-width="0.6"/>
<path d="M69.21 418.80L71.31 421.70L69.21 424.60L67.11 421.70Z" fill="#ff0000" stroke="#ff0000" stroke-width="0.6"/>
<path d="M74.18 388.30L76.28 391.20L74.18 394.10L72.08 391.20Z" fill="#ff0000" stroke="#ff0000" stroke-width="0.6"/>
<path d="M79.15 364.50L81.25 367.40L79.15 370.30L77.05 367.40Z" fill="#ff0000" stroke="#ff0000" stroke-width="0.6"/>
<path d="M84.12 346.40L86.22 349.30L84.12 352.20L82.02 349.30Z" fill="#ff0000" stroke="#ff0000" stroke-width="0.6"/>
<path d="M89.09 332.40L91.19 335.30L89.09 338.20L86.99 335.30Z" fill="#ff0000" stroke="#ff0000" stroke-width="0.6"/>
<path d="M94.06 321.60L96.16 324.50L94.06 327.40L91.96 324.50Z" fill="#ff0000" stroke="#ff0000" stroke-width="0.6"/>
<path d="M99.03 315.70L101.13 318.60L99.03 321.50L96.93 318.60Z" fill="#ff0000" stroke="#ff0000" stroke-width="0.6"/>
<path d="M104.00 309.10L106.10 312.00L104.00 314.90L101.90 312.00Z" fill="#ff0000" stroke="#ff0000" stroke-width="0.6"/>
<path d="M108.97 316.10L111.07 319.00L108.97 321.90L106.87 319.00Z" fill="#ff0000" stroke="#ff0000" stroke-width="0.6"/>
<path d="M113.94 322.90L116.04 325.80L113.94 328.70L111.84 325.80Z" fill="#ff0000" stroke="#ff0000" stroke-width="0.6"/>
<path d="M118.91 334.50L121.01 337.40L118.91 340.30L116.81 337.40Z" fill="#ff0000" stroke="#ff0000" stroke-width="0.6"/>
<path d="M123.88 349.70L125.98 352.60L123.88 355.50L121.78 352.60Z" fill="#ff0000" stroke="#ff0000" stroke-width="0.6"/>
<path d="M128.85 367.40L130.95 370.30L128.85 373.20L126.75 370.30Z" fill="#ff0000" stroke="#ff0000" stroke-width="0.6"/>
<path d="M133.82 388.30L135.92 391.20L133.82 394.10L131.72 391.20Z" fill="#ff0000" stroke="#ff0000" stroke-width="0.6"/>
<path d="M138.79 409.60L140.89 412.50L138.79 415.40L136.69 412.50Z" fill="#ff0000" stroke="#ff0000" stroke-width="0.6"/>
<path d="M143.76 430.10L145.86 433.00L143.76 435.90L141.66 433.00Z" fill="#ff0000" stroke="#ff0000" stroke-width="0.6"/>
<path d="M148.73 450.50L150.83 453.40L148.73 456.30L146.63 453.40Z" fill="#ff0000" stroke="#ff0000" stroke-width="0.6"/>
<path d="M153.70 466.80L155.80 469.70L153.70 472.60L151.60 469.70Z" fill="#ff0000" stroke="#ff0000" stroke-width="0.6"/>
<path d="M158.67 487.10L160.77 490.00L158.67 492.90L156.57 490.00Z" fill="#ff0000" stroke="#ff0000" stroke-width="0.6"/>
<path d="M163.64 507.10L165.74 510.00L163.64 512.90L161.54 510.00Z" fill="#ff0000" stroke="#ff0000" stroke-width="0.6"/>
<path d="M168.61 527.10L170.71 530.00L168.61 532.90L166.51 530.00Z" fill="#ff0000" stroke="#ff0000" stroke-width="0.6"/>
<path d="M173.58 547.10L175.68 550.00L173.58 552.90L171.48 550.00Z" fill="#ff0000" stroke="#ff0000" stroke-width="0.6"/>
<path d="M178.55 567.10L180.65 570.00L178.55 572.90L176.45 570.00Z" fill="#ff0000" stroke="#ff0000" stroke-width="0.6"/>
<path d="M183.52 581.10L185.62 584.00L183.52 586.90L181.42 584.00Z" fill="#ff0000" stroke="#ff0000" stroke-width="0.6"/>
<path d="M188.49 595.10L190.59 598.00L188.49 600.90L186.39 598.00Z" fill="#ff0000" stroke="#ff0000" stroke-width="0.6"/>
<path d="M193.46 609.10L195.56 612.00L193.46 614.90L191.36 612.00Z" fill="#ff0000" stroke="#ff0000" stroke-width="0.6"/>
<path d="M198.43 623.10L200.53 626.00L198.43 628.90L196.33 626.00Z" fill="#ff0000" stroke="#ff0000" stroke-width="0.6"/>
<path d="M203.40 637.10L205.50 640.00L203.40 642.90L201.30 640.00Z" fill="#ff0000" stroke="#ff0000" stroke-width="0.6"/>
<path d="M208.37 643.10L210.47 646.00L208.37 648.90L206.27 646.00Z" fill="#ff0000" stroke="#ff0000" stroke-width="0.6"/>
<path d="M213.34 649.10L215.44 652.00L213.34 654.90L211.24 652.00Z" fill="#ff0000" stroke="#ff0000" stroke-width="0.6"/>
<path d="M218.31 655.10L220.41 658.00L218.31 660.90L216.21 658.00Z" fill="#ff0000" stroke="#ff0000" stroke-width="0.6"/>
<path d="M223.28 661.10L225.38 664.00L223.28 666.90L221.18 664.00Z" fill="#ff0000" stroke="#ff0000" stroke-width="0.6"/>
<path d="M228.25 667.10L230.35 670.00L228.25 672.90L226.15 670.00Z" fill="#ff0000" stroke="#ff0000" stroke-width="0.6"/>
<path d="M233.22 673.10L235.32 676.00L233.22 678.90L231.12 676.00Z" fill="#ff0000" stroke="#ff0000" stroke-width="0.6"/>
<path d="M238.19 679.10L240.29 682.00L238.19 684.90L236.09 682.00Z" fill="#ff0000" stroke="#ff0000" stroke-width="0.6"/>
<path d="M243.16 685.10L245.26 688.00L243.16 690.90L241.06 688.00Z" fill="#ff0000" stroke="#ff0000" stroke-width="0.6"/>
<path d="M248.13 691.10L250.23 694.00L248.13 696.90L246.03 694.00Z" fill="#ff0000" stroke="#ff0000" stroke-width="0.6"/>
<path d="M253.10 697.10L255.20 700.00L253.10 702.90L251.00 700.00Z" fill="#ff0000" stroke="#ff0000" stroke-width="0.6"/>
<path d="M260.56 669.10L262.66 672.00L260.56 674.90L258.45 672.00Z" fill="#ff0000" stroke="#ff0000" stroke-width="0.6"/>
<path d="M270.50 631.77L272.60 634.67L270.50 637.57L268.39 634.67Z" fill="#ff0000" stroke="#ff0000" stroke-width="0.6"/>
<path d="M280.44 594.43L282.54 597.33L280.44 600.23L278.33 597.33Z" fill="#ff0000" stroke="#ff0000" stroke-width="0.6"/>
<path d="M290.38 557.10L292.48 560.00L290.38 562.90L288.27 560.00Z" fill="#ff0000" stroke="#ff0000" stroke-width="0.6"/>
<path d="M300.31 527.10L302.42 530.00L300.31 532.90L298.21 530.00Z" fill="#ff0000" stroke="#ff0000" stroke-width="0.6"/>
<path d="M310.25 502.10L312.36 505.00L310.25 507.90L308.15 505.00Z" fill="#ff0000" stroke="#ff0000" stroke-width="0.6"/>
<path d="M320.19 485.10L322.30 488.00L320.19 490.90L318.09 488.00Z" fill="#ff0000" stroke="#ff0000" stroke-width="0.6"/>
<path d="M330.13 477.10L332.24 480.00L330.13 482.90L328.03 480.00Z" fill="#ff0000" stroke="#ff0000" stroke-width="0.6"/>
<path d="M340.07 469.90L342.18 472.80L340.07 475.70L337.97 472.80Z" fill="#ff0000" stroke="#ff0000" stroke-width="0.6"/>
<path d="M350.01 457.50L352.12 460.40L350.01 463.30L347.91 460.40Z" fill="#ff0000" stroke="#ff0000" stroke-width="0.6"/>
<path d="M359.95 452.90L362.06 455.80L359.95 458.70L357.85 455.80Z" fill="#ff0000" stroke="#ff0000" stroke-width="0.6"/>
</g>
<g clip-path="url(#cm)">
<rect x="51.70" y="100.79" width="5.20" height="5.20" fill="#000" stroke="#000" stroke-width="0.6"/>
<rect x="56.67" y="130.31" width="5.20" height="5.20" fill="#000" stroke="#000" stroke-width="0.6"/>
<rect x="61.64" y="131.67" width="5.20" height="5.20" fill="#000" stroke="#000" stroke-width="0.6"/>
<rect x="66.61" y="131.67" width="5.20" height="5.20" fill="#000" stroke="#000" stroke-width="0.6"/>
<rect x="71.58" y="130.79" width="5.20" height="5.20" fill="#000" stroke="#000" stroke-width="0.6"/>
<rect x="76.55" y="130.31" width="5.20" height="5.20" fill="#000" stroke="#000" stroke-width="0.6"/>
<rect x="81.52" y="130.79" width="5.20" height="5.20" fill="#000" stroke="#000" stroke-width="0.6"/>
<rect x="86.49" y="131.52" width="5.20" height="5.20" fill="#000" stroke="#000" stroke-width="0.6"/>
<rect x="91.46" y="133.71" width="5.20" height="5.20" fill="#000" stroke="#000" stroke-width="0.6"/>
<rect x="96.43" y="135.65" width="5.20" height="5.20" fill="#000" stroke="#000" stroke-width="0.6"/>
<rect x="101.40" y="139.06" width="5.20" height="5.20" fill="#000" stroke="#000" stroke-width="0.6"/>
<rect x="106.37" y="141.25" width="5.20" height="5.20" fill="#000" stroke="#000" stroke-width="0.6"/>
<rect x="111.34" y="143.43" width="5.20" height="5.20" fill="#000" stroke="#000" stroke-width="0.6"/>
<rect x="116.31" y="145.38" width="5.20" height="5.20" fill="#000" stroke="#000" stroke-width="0.6"/>
<rect x="121.28" y="147.32" width="5.20" height="5.20" fill="#000" stroke="#000" stroke-width="0.6"/>
<rect x="126.25" y="149.75" width="5.20" height="5.20" fill="#000" stroke="#000" stroke-width="0.6"/>
<rect x="131.22" y="150.73" width="5.20" height="5.20" fill="#000" stroke="#000" stroke-width="0.6"/>
<rect x="136.19" y="152.19" width="5.20" height="5.20" fill="#000" stroke="#000" stroke-width="0.6"/>
<rect x="141.16" y="154.45" width="5.20" height="5.20" fill="#000" stroke="#000" stroke-width="0.6"/>
<rect x="146.13" y="156.72" width="5.20" height="5.20" fill="#000" stroke="#000" stroke-width="0.6"/>
<rect x="151.10" y="158.99" width="5.20" height="5.20" fill="#000" stroke="#000" stroke-width="0.6"/>
<rect x="156.07" y="160.86" width="5.20" height="5.20" fill="#000" stroke="#000" stroke-width="0.6"/>
<rect x="161.04" y="162.72" width="5.20" height="5.20" fill="#000" stroke="#000" stroke-width="0.6"/>
<rect x="166.01" y="164.58" width="5.20" height="5.20" fill="#000" stroke="#000" stroke-width="0.6"/>
<rect x="170.98" y="165.85" width="5.20" height="5.20" fill="#000" stroke="#000" stroke-width="0.6"/>
<rect x="175.95" y="168.11" width="5.20" height="5.20" fill="#000" stroke="#000" stroke-width="0.6"/>
<rect x="180.92" y="170.37" width="5.20" height="5.20" fill="#000" stroke="#000" stroke-width="0.6"/>
<rect x="185.89" y="172.63" width="5.20" height="5.20" fill="#000" stroke="#000" stroke-width="0.6"/>
<rect x="190.86" y="174.89" width="5.20" height="5.20" fill="#000" stroke="#000" stroke-width="0.6"/>
<rect x="195.83" y="176.96" width="5.20" height="5.20" fill="#000" stroke="#000" stroke-width="0.6"/>
<rect x="200.80" y="179.02" width="5.20" height="5.20" fill="#000" stroke="#000" stroke-width="0.6"/>
<rect x="205.77" y="180.32" width="5.20" height="5.20" fill="#000" stroke="#000" stroke-width="0.6"/>
<rect x="210.74" y="181.62" width="5.20" height="5.20" fill="#000" stroke="#000" stroke-width="0.6"/>
<rect x="215.71" y="182.92" width="5.20" height="5.20" fill="#000" stroke="#000" stroke-width="0.6"/>
<rect x="220.68" y="184.23" width="5.20" height="5.20" fill="#000" stroke="#000" stroke-width="0.6"/>
<rect x="225.65" y="186.01" width="5.20" height="5.20" fill="#000" stroke="#000" stroke-width="0.6"/>
<rect x="230.62" y="187.80" width="5.20" height="5.20" fill="#000" stroke="#000" stroke-width="0.6"/>
<rect x="235.59" y="189.59" width="5.20" height="5.20" fill="#000" stroke="#000" stroke-width="0.6"/>
<rect x="240.56" y="191.37" width="5.20" height="5.20" fill="#000" stroke="#000" stroke-width="0.6"/>
<rect x="245.53" y="193.15" width="5.20" height="5.20" fill="#000" stroke="#000" stroke-width="0.6"/>
<rect x="250.50" y="194.93" width="5.20" height="5.20" fill="#000" stroke="#000" stroke-width="0.6"/>
<rect x="257.95" y="197.60" width="5.20" height="5.20" fill="#000" stroke="#000" stroke-width="0.6"/>
<rect x="267.89" y="202.75" width="5.20" height="5.20" fill="#000" stroke="#000" stroke-width="0.6"/>
<rect x="277.83" y="206.98" width="5.20" height="5.20" fill="#000" stroke="#000" stroke-width="0.6"/>
<rect x="287.77" y="209.41" width="5.20" height="5.20" fill="#000" stroke="#000" stroke-width="0.6"/>
<rect x="297.71" y="212.72" width="5.20" height="5.20" fill="#000" stroke="#000" stroke-width="0.6"/>
<rect x="307.65" y="219.48" width="5.20" height="5.20" fill="#000" stroke="#000" stroke-width="0.6"/>
<rect x="317.59" y="226.18" width="5.20" height="5.20" fill="#000" stroke="#000" stroke-width="0.6"/>
<rect x="327.53" y="234.60" width="5.20" height="5.20" fill="#000" stroke="#000" stroke-width="0.6"/>
<rect x="337.47" y="243.98" width="5.20" height="5.20" fill="#000" stroke="#000" stroke-width="0.6"/>
<rect x="347.41" y="251.37" width="5.20" height="5.20" fill="#000" stroke="#000" stroke-width="0.6"/>
<rect x="357.35" y="256.38" width="5.20" height="5.20" fill="#000" stroke="#000" stroke-width="0.6"/>
<polyline points="54.30,105.88 59.27,136.12 64.24,132.63 69.21,131.92 74.18,131.53 79.15,131.77 84.12,132.98 89.09,133.95 94.06,136.02 99.03,137.72 104.00,140.76 108.97,142.86 113.94,144.96 118.91,146.81 123.88,148.67 128.85,151.08 133.82,152.03 138.79,153.47 143.76,155.72 148.73,157.97 153.70,160.22 158.67,162.02 163.64,163.82 168.61,165.63 173.58,166.83 178.55,167.21 183.52,168.94 188.49,170.42 193.46,172.81 198.43,174.75 203.40,177.90 208.37,179.62 213.34,182.36 218.31,184.80 223.28,186.41 228.25,188.20 233.22,190.71 238.19,193.47 243.16,194.87 248.13,196.02 253.10,198.91 260.56,201.02 270.50,206.17 280.44,211.92 290.38,216.36 300.31,220.24 310.25,228.50 320.19,231.03 330.13,239.44 340.07,244.21 350.01,251.00 359.95,253.04" fill="none" stroke="#ff8c8c" stroke-width="1.2"/>
<path d="M54.30 103.18L56.40 105.88L54.30 108.58L52.20 105.88Z" fill="none" stroke="#ff8c8c" stroke-width="1"/>
<path d="M59.27 133.42L61.37 136.12L59.27 138.82L57.17 136.12Z" fill="none" stroke="#ff8c8c" stroke-width="1"/>
<path d="M64.24 129.93L66.34 132.63L64.24 135.33L62.14 132.63Z" fill="none" stroke="#ff8c8c" stroke-width="1"/>
<path d="M69.21 129.22L71.31 131.92L69.21 134.62L67.11 131.92Z" fill="none" stroke="#ff8c8c" stroke-width="1"/>
<path d="M74.18 128.83L76.28 131.53L74.18 134.23L72.08 131.53Z" fill="none" stroke="#ff8c8c" stroke-width="1"/>
<path d="M79.15 129.07L81.25 131.77L79.15 134.47L77.05 131.77Z" fill="none" stroke="#ff8c8c" stroke-width="1"/>
<path d="M84.12 130.28L86.22 132.98L84.12 135.68L82.02 132.98Z" fill="none" stroke="#ff8c8c" stroke-width="1"/>
<path d="M89.09 131.25L91.19 133.95L89.09 136.65L86.99 133.95Z" fill="none" stroke="#ff8c8c" stroke-width="1"/>
<path d="M94.06 133.32L96.16 136.02L94.06 138.72L91.96 136.02Z" fill="none" stroke="#ff8c8c" stroke-width="1"/>
<path d="M99.03 135.02L101.13 137.72L99.03 140.42L96.93 137.72Z" fill="none" stroke="#ff8c8c" stroke-width="1"/>
<path d="M104.00 138.06L106.10 140.76L104.00 143.46L101.90 140.76Z" fill="none" stroke="#ff8c8c" stroke-width="1"/>
<path d="M108.97 140.16L111.07 142.86L108.97 145.56L106.87 142.86Z" fill="none" stroke="#ff8c8c" stroke-width="1"/>
<path d="M113.94 142.26L116.04 144.96L113.94 147.66L111.84 144.96Z" fill="none" stroke="#ff8c8c" stroke-width="1"/>
<path d="M118.91 144.11L121.01 146.81L118.91 149.51L116.81 146.81Z" fill="none" stroke="#ff8c8c" stroke-width="1"/>
<path d="M123.88 145.97L125.98 148.67L123.88 151.37L121.78 148.67Z" fill="none" stroke="#ff8c8c" stroke-width="1"/>
<path d="M128.85 148.38L130.95 151.08L128.85 153.78L126.75 151.08Z" fill="none" stroke="#ff8c8c" stroke-width="1"/>
<path d="M133.82 149.33L135.92 152.03L133.82 154.73L131.72 152.03Z" fill="none" stroke="#ff8c8c" stroke-width="1"/>
<path d="M138.79 150.77L140.89 153.47L138.79 156.17L136.69 153.47Z" fill="none" stroke="#ff8c8c" stroke-width="1"/>
<path d="M143.76 153.02L145.86 155.72L143.76 158.42L141.66 155.72Z" fill="none" stroke="#ff8c8c" stroke-width="1"/>
<path d="M148.73 155.27L150.83 157.97L148.73 160.67L146.63 157.97Z" fill="none" stroke="#ff8c8c" stroke-width="1"/>
<path d="M153.70 157.52L155.80 160.22L153.70 162.92L151.60 160.22Z" fill="none" stroke="#ff8c8c" stroke-width="1"/>
<path d="M158.67 159.32L160.77 162.02L158.67 164.72L156.57 162.02Z" fill="none" stroke="#ff8c8c" stroke-width="1"/>
<path d="M163.64 161.12L165.74 163.82L163.64 166.52L161.54 163.82Z" fill="none" stroke="#ff8c8c" stroke-width="1"/>
<path d="M168.61 162.93L170.71 165.63L168.61 168.33L166.51 165.63Z" fill="none" stroke="#ff8c8c" stroke-width="1"/>
<path d="M173.58 164.13L175.68 166.83L173.58 169.53L171.48 166.83Z" fill="none" stroke="#ff8c8c" stroke-width="1"/>
<path d="M178.55 164.51L180.65 167.21L178.55 169.91L176.45 167.21Z" fill="none" stroke="#ff8c8c" stroke-width="1"/>
<path d="M183.52 166.24L185.62 168.94L183.52 171.64L181.42 168.94Z" fill="none" stroke="#ff8c8c" stroke-width="1"/>
<path d="M188.49 167.72L190.59 170.42L188.49 173.12L186.39 170.42Z" fill="none" stroke="#ff8c8c" stroke-width="1"/>
<path d="M193.46 170.11L195.56 172.81L193.46 175.51L191.36 172.81Z" fill="none" stroke="#ff8c8c" stroke-width="1"/>
<path d="M198.43 172.05L200.53 174.75L198.43 177.45L196.33 174.75Z" fill="none" stroke="#ff8c8c" stroke-width="1"/>
<path d="M203.40 175.20L205.50 177.90L203.40 180.60L201.30 177.90Z" fill="none" stroke="#ff8c8c" stroke-width="1"/>
<path d="M208.37 176.92L210.47 179.62L208.37 182.32L206.27 179.62Z" fill="none" stroke="#ff8c8c" stroke-width="1"/>
<path d="M213.34 179.66L215.44 182.36L213.34 185.06L211.24 182.36Z" fill="none" stroke="#ff8c8c" stroke-width="1"/>
<path d="M218.31 182.10L220.41 184.80L218.31 187.50L216.21 184.80Z" fill="none" stroke="#ff8c8c" stroke-width="1"/>
<path d="M223.28 183.71L225.38 186.41L223.28 189.11L221.18 186.41Z" fill="none" stroke="#ff8c8c" stroke-width="1"/>
<path d="M228.25 185.50L230.35 188.20L228.25 190.90L226.15 188.20Z" fill="none" stroke="#ff8c8c" stroke-width="1"/>
<path d="M233.22 188.01L235.32 190.71L233.22 193.41L231.12 190.71Z" fill="none" stroke="#ff8c8c" stroke-width="1"/>
<path d="M238.19 190.77L240.29 193.47L238.19 196.17L236.09 193.47Z" fill="none" stroke="#ff8c8c" stroke-width="1"/>
<path d="M243.16 192.17L245.26 194.87L243.16 197.57L241.06 194.87Z" fill="none" stroke="#ff8c8c" stroke-width="1"/>
<path d="M248.13 193.32L250.23 196.02L248.13 198.72L246.03 196.02Z" fill="none" stroke="#ff8c8c" stroke-width="1"/>
<path d="M253.10 196.21L255.20 198.91L253.10 201.61L251.00 198.91Z" fill="none" stroke="#ff8c8c" stroke-width="1"/>
<path d="M260.56 198.32L262.66 201.02L260.56 203.72L258.45 201.02Z" fill="none" stroke="#ff8c8c" stroke-width="1"/>
<path d="M270.50 203.47L272.60 206.17L270.50 208.87L268.39 206.17Z" fill="none" stroke="#ff8c8c" stroke-width="1"/>
<path d="M280.44 209.22L282.54 211.92L280.44 214.62L278.33 211.92Z" fill="none" stroke="#ff8c8c" stroke-width="1"/>
<path d="M290.38 213.66L292.48 216.36L290.38 219.06L288.27 216.36Z" fill="none" stroke="#ff8c8c" stroke-width="1"/>
<path d="M300.31 217.54L302.42 220.24L300.31 222.94L298.21 220.24Z" fill="none" stroke="#ff8c8c" stroke-width="1"/>
<path d="M310.25 225.80L312.36 228.50L310.25 231.20L308.15 228.50Z" fill="none" stroke="#ff8c8c" stroke-width="1"/>
<path d="M320.19 228.33L322.30 231.03L320.19 233.73L318.09 231.03Z" fill="none" stroke="#ff8c8c" stroke-width="1"/>
<path d="M330.13 236.74L332.24 239.44L330.13 242.14L328.03 239.44Z" fill="none" stroke="#ff8c8c" stroke-width="1"/>
<path d="M340.07 241.51L342.18 244.21L340.07 246.91L337.97 244.21Z" fill="none" stroke="#ff8c8c" stroke-width="1"/>
<path d="M350.01 248.30L352.12 251.00L350.01 253.70L347.91 251.00Z" fill="none" stroke="#ff8c8c" stroke-width="1"/>
<path d="M359.95 250.34L362.06 253.04L359.95 255.74L357.85 253.04Z" fill="none" stroke="#ff8c8c" stroke-width="1"/>
<polyline points="54.30,108.01 59.27,139.26 64.24,132.50 69.21,130.62 74.18,129.12 79.15,130.76 84.12,132.67 89.09,133.95 94.06,136.43 99.03,137.77 104.00,140.64 108.97,142.42 113.94,143.57 118.91,144.89 123.88,146.61 128.85,149.19 133.82,150.45 138.79,152.13 143.76,154.61 148.73,157.10 153.70,159.37 158.67,161.02 163.64,162.66 168.61,164.31 173.58,165.36 178.55,166.99 183.52,168.81 188.49,171.20 193.46,173.70 198.43,176.05 203.40,178.80 208.37,181.06 213.34,183.72 218.31,186.32 223.28,189.12 228.25,191.99 233.22,194.84 238.19,196.85 243.16,199.36 248.13,202.34 253.10,205.26 260.56,207.80 270.50,213.63 280.44,220.25 290.38,226.04 300.31,231.21 310.25,239.83 320.19,246.17 330.13,251.59 340.07,256.89 350.01,265.03 359.95,271.90" fill="none" stroke="#3a9a3a" stroke-width="1.3" stroke-dasharray="3,2.5"/>
<rect x="51.70" y="105.41" width="5.20" height="5.20" fill="none" stroke="#3a9a3a" stroke-width="1.2"/>
<rect x="56.67" y="136.66" width="5.20" height="5.20" fill="none" stroke="#3a9a3a" stroke-width="1.2"/>
<rect x="61.64" y="129.90" width="5.20" height="5.20" fill="none" stroke="#3a9a3a" stroke-width="1.2"/>
<rect x="66.61" y="128.02" width="5.20" height="5.20" fill="none" stroke="#3a9a3a" stroke-width="1.2"/>
<rect x="71.58" y="126.52" width="5.20" height="5.20" fill="none" stroke="#3a9a3a" stroke-width="1.2"/>
<rect x="76.55" y="128.16" width="5.20" height="5.20" fill="none" stroke="#3a9a3a" stroke-width="1.2"/>
<rect x="81.52" y="130.07" width="5.20" height="5.20" fill="none" stroke="#3a9a3a" stroke-width="1.2"/>
<rect x="86.49" y="131.35" width="5.20" height="5.20" fill="none" stroke="#3a9a3a" stroke-width="1.2"/>
<rect x="91.46" y="133.83" width="5.20" height="5.20" fill="none" stroke="#3a9a3a" stroke-width="1.2"/>
<rect x="96.43" y="135.17" width="5.20" height="5.20" fill="none" stroke="#3a9a3a" stroke-width="1.2"/>
<rect x="101.40" y="138.04" width="5.20" height="5.20" fill="none" stroke="#3a9a3a" stroke-width="1.2"/>
<rect x="106.37" y="139.82" width="5.20" height="5.20" fill="none" stroke="#3a9a3a" stroke-width="1.2"/>
<rect x="111.34" y="140.97" width="5.20" height="5.20" fill="none" stroke="#3a9a3a" stroke-width="1.2"/>
<rect x="116.31" y="142.29" width="5.20" height="5.20" fill="none" stroke="#3a9a3a" stroke-width="1.2"/>
<rect x="121.28" y="144.01" width="5.20" height="5.20" fill="none" stroke="#3a9a3a" stroke-width="1.2"/>
<rect x="126.25" y="146.59" width="5.20" height="5.20" fill="none" stroke="#3a9a3a" stroke-width="1.2"/>
<rect x="131.22" y="147.85" width="5.20" height="5.20" fill="none" stroke="#3a9a3a" stroke-width="1.2"/>
<rect x="136.19" y="149.53" width="5.20" height="5.20" fill="none" stroke="#3a9a3a" stroke-width="1.2"/>
<rect x="141.16" y="152.01" width="5.20" height="5.20" fill="none" stroke="#3a9a3a" stroke-width="1.2"/>
<rect x="146.13" y="154.50" width="5.20" height="5.20" fill="none" stroke="#3a9a3a" stroke-width="1.2"/>
<rect x="151.10" y="156.77" width="5.20" height="5.20" fill="none" stroke="#3a9a3a" stroke-width="1.2"/>
<rect x="156.07" y="158.42" width="5.20" height="5.20" fill="none" stroke="#3a9a3a" stroke-width="1.2"/>
<rect x="161.04" y="160.06" width="5.20" height="5.20" fill="none" stroke="#3a9a3a" stroke-width="1.2"/>
<rect x="166.01" y="161.71" width="5.20" height="5.20" fill="none" stroke="#3a9a3a" stroke-width="1.2"/>
<rect x="170.98" y="162.76" width="5.20" height="5.20" fill="none" stroke="#3a9a3a" stroke-width="1.2"/>
<rect x="175.95" y="164.39" width="5.20" height="5.20" fill="none" stroke="#3a9a3a" stroke-width="1.2"/>
<rect x="180.92" y="166.21" width="5.20" height="5.20" fill="none" stroke="#3a9a3a" stroke-width="1.2"/>
<rect x="185.89" y="168.60" width="5.20" height="5.20" fill="none" stroke="#3a9a3a" stroke-width="1.2"/>
<rect x="190.86" y="171.10" width="5.20" height="5.20" fill="none" stroke="#3a9a3a" stroke-width="1.2"/>
<rect x="195.83" y="173.45" width="5.20" height="5.20" fill="none" stroke="#3a9a3a" stroke-width="1.2"/>
<rect x="200.80" y="176.20" width="5.20" height="5.20" fill="none" stroke="#3a9a3a" stroke-width="1.2"/>
<rect x="205.77" y="178.46" width="5.20" height="5.20" fill="none" stroke="#3a9a3a" stroke-width="1.2"/>
<rect x="210.74" y="181.12" width="5.20" height="5.20" fill="none" stroke="#3a9a3a" stroke-width="1.2"/>
<rect x="215.71" y="183.72" width="5.20" height="5.20" fill="none" stroke="#3a9a3a" stroke-width="1.2"/>
<rect x="220.68" y="186.52" width="5.20" height="5.20" fill="none" stroke="#3a9a3a" stroke-width="1.2"/>
<rect x="225.65" y="189.39" width="5.20" height="5.20" fill="none" stroke="#3a9a3a" stroke-width="1.2"/>
<rect x="230.62" y="192.24" width="5.20" height="5.20" fill="none" stroke="#3a9a3a" stroke-width="1.2"/>
<rect x="235.59" y="194.25" width="5.20" height="5.20" fill="none" stroke="#3a9a3a" stroke-width="1.2"/>
<rect x="240.56" y="196.76" width="5.20" height="5.20" fill="none" stroke="#3a9a3a" stroke-width="1.2"/>
<rect x="245.53" y="199.74" width="5.20" height="5.20" fill="none" stroke="#3a9a3a" stroke-width="1.2"/>
<rect x="250.50" y="202.66" width="5.20" height="5.20" fill="none" stroke="#3a9a3a" stroke-width="1.2"/>
<rect x="257.95" y="205.20" width="5.20" height="5.20" fill="none" stroke="#3a9a3a" stroke-width="1.2"/>
<rect x="267.89" y="211.03" width="5.20" height="5.20" fill="none" stroke="#3a9a3a" stroke-width="1.2"/>
<rect x="277.83" y="217.65" width="5.20" height="5.20" fill="none" stroke="#3a9a3a" stroke-width="1.2"/>
<rect x="287.77" y="223.44" width="5.20" height="5.20" fill="none" stroke="#3a9a3a" stroke-width="1.2"/>
<rect x="297.71" y="228.61" width="5.20" height="5.20" fill="none" stroke="#3a9a3a" stroke-width="1.2"/>
<rect x="307.65" y="237.23" width="5.20" height="5.20" fill="none" stroke="#3a9a3a" stroke-width="1.2"/>
<rect x="317.59" y="243.57" width="5.20" height="5.20" fill="none" stroke="#3a9a3a" stroke-width="1.2"/>
<rect x="327.53" y="248.99" width="5.20" height="5.20" fill="none" stroke="#3a9a3a" stroke-width="1.2"/>
<rect x="337.47" y="254.29" width="5.20" height="5.20" fill="none" stroke="#3a9a3a" stroke-width="1.2"/>
<rect x="347.41" y="262.43" width="5.20" height="5.20" fill="none" stroke="#3a9a3a" stroke-width="1.2"/>
<rect x="357.35" y="269.30" width="5.20" height="5.20" fill="none" stroke="#3a9a3a" stroke-width="1.2"/>
<polyline points="54.30,106.07 59.27,128.39 64.24,126.37 69.21,128.11 74.18,129.94 79.15,131.60 84.12,133.61 89.09,135.52 94.06,138.41 99.03,140.74 104.00,144.34 108.97,146.43 113.94,148.38 118.91,149.84 123.88,151.78 128.85,154.60 133.82,155.45 138.79,156.79 143.76,158.91 148.73,161.18 153.70,163.35 158.67,165.10 163.64,166.74 168.61,167.50 173.58,167.80 178.55,169.26 183.52,171.23 188.49,173.23 193.46,174.83 198.43,176.47 203.40,179.62 208.37,181.57 213.34,183.93 218.31,186.03 223.28,186.41 228.25,188.68 233.22,191.05 238.19,195.40 243.16,197.43 248.13,198.24 253.10,201.22 260.56,203.67 270.50,209.12 280.44,214.75 290.38,220.05 300.31,226.21 310.25,232.97 320.19,240.21 330.13,244.90 340.07,252.04 350.01,261.29 359.95,264.82" fill="none" stroke="#992233" stroke-width="1.15"/>
<path d="M359.95 262.29V267.36M358.65 262.29H361.25M358.65 267.36H361.25" stroke="#992233" stroke-width="1" fill="none"/>
<path d="M54.30 102.99L51.30 108.59L57.30 108.59Z" fill="none" stroke="#992233" stroke-width="1"/>
<path d="M59.27 125.31L56.27 130.91L62.27 130.91Z" fill="none" stroke="#992233" stroke-width="1"/>
<path d="M64.24 123.29L61.24 128.89L67.24 128.89Z" fill="none" stroke="#992233" stroke-width="1"/>
<path d="M69.21 125.03L66.21 130.63L72.21 130.63Z" fill="none" stroke="#992233" stroke-width="1"/>
<path d="M74.18 126.86L71.18 132.46L77.18 132.46Z" fill="none" stroke="#992233" stroke-width="1"/>
<path d="M79.15 128.52L76.15 134.12L82.15 134.12Z" fill="none" stroke="#992233" stroke-width="1"/>
<path d="M84.12 130.53L81.12 136.13L87.12 136.13Z" fill="none" stroke="#992233" stroke-width="1"/>
<path d="M89.09 132.44L86.09 138.04L92.09 138.04Z" fill="none" stroke="#992233" stroke-width="1"/>
<path d="M94.06 135.33L91.06 140.93L97.06 140.93Z" fill="none" stroke="#992233" stroke-width="1"/>
<path d="M99.03 137.66L96.03 143.26L102.03 143.26Z" fill="none" stroke="#992233" stroke-width="1"/>
<path d="M104.00 141.26L101.00 146.86L107.00 146.86Z" fill="none" stroke="#992233" stroke-width="1"/>
<path d="M108.97 143.35L105.97 148.95L111.97 148.95Z" fill="none" stroke="#992233" stroke-width="1"/>
<path d="M113.94 145.30L110.94 150.90L116.94 150.90Z" fill="none" stroke="#992233" stroke-width="1"/>
<path d="M118.91 146.76L115.91 152.36L121.91 152.36Z" fill="none" stroke="#992233" stroke-width="1"/>
<path d="M123.88 148.70L120.88 154.30L126.88 154.30Z" fill="none" stroke="#992233" stroke-width="1"/>
<path d="M128.85 151.52L125.85 157.12L131.85 157.12Z" fill="none" stroke="#992233" stroke-width="1"/>
<path d="M133.82 152.37L130.82 157.97L136.82 157.97Z" fill="none" stroke="#992233" stroke-width="1"/>
<path d="M138.79 153.71L135.79 159.31L141.79 159.31Z" fill="none" stroke="#992233" stroke-width="1"/>
<path d="M143.76 155.83L140.76 161.43L146.76 161.43Z" fill="none" stroke="#992233" stroke-width="1"/>
<path d="M148.73 158.10L145.73 163.70L151.73 163.70Z" fill="none" stroke="#992233" stroke-width="1"/>
<path d="M153.70 160.27L150.70 165.87L156.70 165.87Z" fill="none" stroke="#992233" stroke-width="1"/>
<path d="M158.67 162.02L155.67 167.62L161.67 167.62Z" fill="none" stroke="#992233" stroke-width="1"/>
<path d="M163.64 163.66L160.64 169.26L166.64 169.26Z" fill="none" stroke="#992233" stroke-width="1"/>
<path d="M168.61 164.42L165.61 170.02L171.61 170.02Z" fill="none" stroke="#992233" stroke-width="1"/>
<path d="M173.58 164.72L170.58 170.32L176.58 170.32Z" fill="none" stroke="#992233" stroke-width="1"/>
<path d="M178.55 166.18L175.55 171.78L181.55 171.78Z" fill="none" stroke="#992233" stroke-width="1"/>
<path d="M183.52 168.15L180.52 173.75L186.52 173.75Z" fill="none" stroke="#992233" stroke-width="1"/>
<path d="M188.49 170.15L185.49 175.75L191.49 175.75Z" fill="none" stroke="#992233" stroke-width="1"/>
<path d="M193.46 171.75L190.46 177.35L196.46 177.35Z" fill="none" stroke="#992233" stroke-width="1"/>
<path d="M198.43 173.39L195.43 178.99L201.43 178.99Z" fill="none" stroke="#992233" stroke-width="1"/>
<path d="M203.40 176.54L200.40 182.14L206.40 182.14Z" fill="none" stroke="#992233" stroke-width="1"/>
<path d="M208.37 178.49L205.37 184.09L211.37 184.09Z" fill="none" stroke="#992233" stroke-width="1"/>
<path d="M213.34 180.85L210.34 186.45L216.34 186.45Z" fill="none" stroke="#992233" stroke-width="1"/>
<path d="M218.31 182.95L215.31 188.55L221.31 188.55Z" fill="none" stroke="#992233" stroke-width="1"/>
<path d="M223.28 183.33L220.28 188.93L226.28 188.93Z" fill="none" stroke="#992233" stroke-width="1"/>
<path d="M228.25 185.60L225.25 191.20L231.25 191.20Z" fill="none" stroke="#992233" stroke-width="1"/>
<path d="M233.22 187.97L230.22 193.57L236.22 193.57Z" fill="none" stroke="#992233" stroke-width="1"/>
<path d="M238.19 192.32L235.19 197.92L241.19 197.92Z" fill="none" stroke="#992233" stroke-width="1"/>
<path d="M243.16 194.35L240.16 199.95L246.16 199.95Z" fill="none" stroke="#992233" stroke-width="1"/>
<path d="M248.13 195.16L245.13 200.76L251.13 200.76Z" fill="none" stroke="#992233" stroke-width="1"/>
<path d="M253.10 198.14L250.10 203.74L256.10 203.74Z" fill="none" stroke="#992233" stroke-width="1"/>
<path d="M260.56 200.59L257.56 206.19L263.56 206.19Z" fill="none" stroke="#992233" stroke-width="1"/>
<path d="M270.50 206.04L267.50 211.64L273.50 211.64Z" fill="none" stroke="#992233" stroke-width="1"/>
<path d="M280.44 211.67L277.44 217.27L283.44 217.27Z" fill="none" stroke="#992233" stroke-width="1"/>
<path d="M290.38 216.97L287.38 222.57L293.38 222.57Z" fill="none" stroke="#992233" stroke-width="1"/>
<path d="M300.31 223.13L297.31 228.73L303.31 228.73Z" fill="none" stroke="#992233" stroke-width="1"/>
<path d="M310.25 229.89L307.25 235.49L313.25 235.49Z" fill="none" stroke="#992233" stroke-width="1"/>
<path d="M320.19 237.13L317.19 242.73L323.19 242.73Z" fill="none" stroke="#992233" stroke-width="1"/>
<path d="M330.13 241.82L327.13 247.42L333.13 247.42Z" fill="none" stroke="#992233" stroke-width="1"/>
<path d="M340.07 248.96L337.07 254.56L343.07 254.56Z" fill="none" stroke="#992233" stroke-width="1"/>
<path d="M350.01 258.21L347.01 263.81L353.01 263.81Z" fill="none" stroke="#992233" stroke-width="1"/>
<path d="M359.95 261.74L356.95 267.34L362.95 267.34Z" fill="none" stroke="#992233" stroke-width="1"/>
<polyline points="54.30,109.65 59.27,142.33 64.24,136.37 69.21,132.36 74.18,129.12 79.15,127.69 84.12,128.32 89.09,129.99 94.06,133.12 99.03,135.89 104.00,140.09 108.97,142.42 113.94,145.02 118.91,147.04 123.88,148.98 128.85,151.63 133.82,153.25 138.79,154.81 143.76,157.42 148.73,159.76 153.70,162.03 158.67,163.89 163.64,165.25 168.61,166.60 173.58,167.31 178.55,168.85 183.52,170.31 188.49,171.92 193.46,173.99 198.43,176.25 203.40,178.53 208.37,180.48 213.34,182.94 218.31,185.02 223.28,187.70 228.25,189.63 233.22,191.82 238.19,194.36 243.16,196.36 248.13,198.84 253.10,201.01 260.56,203.50 270.50,208.83 280.44,214.48 290.38,219.33 300.31,224.74 310.25,231.64 320.19,238.20 330.13,243.62 340.07,249.43 350.01,255.71 359.95,263.90" fill="none" stroke="#1a1aff" stroke-width="1.2"/>
<path d="M54.30 106.90L51.60 111.90L57.00 111.90Z" fill="#1a1aff" stroke="#1a1aff" stroke-width="1"/>
<path d="M59.27 139.58L56.57 144.58L61.97 144.58Z" fill="#1a1aff" stroke="#1a1aff" stroke-width="1"/>
<path d="M64.24 133.62L61.54 138.62L66.94 138.62Z" fill="#1a1aff" stroke="#1a1aff" stroke-width="1"/>
<path d="M69.21 129.61L66.51 134.61L71.91 134.61Z" fill="#1a1aff" stroke="#1a1aff" stroke-width="1"/>
<path d="M74.18 126.37L71.48 131.37L76.88 131.37Z" fill="#1a1aff" stroke="#1a1aff" stroke-width="1"/>
<path d="M79.15 124.94L76.45 129.94L81.85 129.94Z" fill="#1a1aff" stroke="#1a1aff" stroke-width="1"/>
<path d="M84.12 125.57L81.42 130.57L86.82 130.57Z" fill="#1a1aff" stroke="#1a1aff" stroke-width="1"/>
<path d="M89.09 127.24L86.39 132.24L91.79 132.24Z" fill="#1a1aff" stroke="#1a1aff" stroke-width="1"/>
<path d="M94.06 130.37L91.36 135.37L96.76 135.37Z" fill="#1a1aff" stroke="#1a1aff" stroke-width="1"/>
<path d="M99.03 133.14L96.33 138.14L101.73 138.14Z" fill="#1a1aff" stroke="#1a1aff" stroke-width="1"/>
<path d="M104.00 137.34L101.30 142.34L106.70 142.34Z" fill="#1a1aff" stroke="#1a1aff" stroke-width="1"/>
<path d="M108.97 139.67L106.27 144.67L111.67 144.67Z" fill="#1a1aff" stroke="#1a1aff" stroke-width="1"/>
<path d="M113.94 142.27L111.24 147.27L116.64 147.27Z" fill="#1a1aff" stroke="#1a1aff" stroke-width="1"/>
<path d="M118.91 144.29L116.21 149.29L121.61 149.29Z" fill="#1a1aff" stroke="#1a1aff" stroke-width="1"/>
<path d="M123.88 146.23L121.18 151.23L126.58 151.23Z" fill="#1a1aff" stroke="#1a1aff" stroke-width="1"/>
<path d="M128.85 148.88L126.15 153.88L131.55 153.88Z" fill="#1a1aff" stroke="#1a1aff" stroke-width="1"/>
<path d="M133.82 150.50L131.12 155.50L136.52 155.50Z" fill="#1a1aff" stroke="#1a1aff" stroke-width="1"/>
<path d="M138.79 152.06L136.09 157.06L141.49 157.06Z" fill="#1a1aff" stroke="#1a1aff" stroke-width="1"/>
<path d="M143.76 154.67L141.06 159.67L146.46 159.67Z" fill="#1a1aff" stroke="#1a1aff" stroke-width="1"/>
<path d="M148.73 157.01L146.03 162.01L151.43 162.01Z" fill="#1a1aff" stroke="#1a1aff" stroke-width="1"/>
<path d="M153.70 159.28L151.00 164.28L156.40 164.28Z" fill="#1a1aff" stroke="#1a1aff" stroke-width="1"/>
<path d="M158.67 161.14L155.97 166.14L161.37 166.14Z" fill="#1a1aff" stroke="#1a1aff" stroke-width="1"/>
<path d="M163.64 162.50L160.94 167.50L166.34 167.50Z" fill="#1a1aff" stroke="#1a1aff" stroke-width="1"/>
<path d="M168.61 163.85L165.91 168.85L171.31 168.85Z" fill="#1a1aff" stroke="#1a1aff" stroke-width="1"/>
<path d="M173.58 164.56L170.88 169.56L176.28 169.56Z" fill="#1a1aff" stroke="#1a1aff" stroke-width="1"/>
<path d="M178.55 166.10L175.85 171.10L181.25 171.10Z" fill="#1a1aff" stroke="#1a1aff" stroke-width="1"/>
<path d="M183.52 167.56L180.82 172.56L186.22 172.56Z" fill="#1a1aff" stroke="#1a1aff" stroke-width="1"/>
<path d="M188.49 169.17L185.79 174.17L191.19 174.17Z" fill="#1a1aff" stroke="#1a1aff" stroke-width="1"/>
<path d="M193.46 171.24L190.76 176.24L196.16 176.24Z" fill="#1a1aff" stroke="#1a1aff" stroke-width="1"/>
<path d="M198.43 173.50L195.73 178.50L201.13 178.50Z" fill="#1a1aff" stroke="#1a1aff" stroke-width="1"/>
<path d="M203.40 175.78L200.70 180.78L206.10 180.78Z" fill="#1a1aff" stroke="#1a1aff" stroke-width="1"/>
<path d="M208.37 177.73L205.67 182.73L211.07 182.73Z" fill="#1a1aff" stroke="#1a1aff" stroke-width="1"/>
<path d="M213.34 180.19L210.64 185.19L216.04 185.19Z" fill="#1a1aff" stroke="#1a1aff" stroke-width="1"/>
<path d="M218.31 182.27L215.61 187.27L221.01 187.27Z" fill="#1a1aff" stroke="#1a1aff" stroke-width="1"/>
<path d="M223.28 184.95L220.58 189.95L225.98 189.95Z" fill="#1a1aff" stroke="#1a1aff" stroke-width="1"/>
<path d="M228.25 186.88L225.55 191.88L230.95 191.88Z" fill="#1a1aff" stroke="#1a1aff" stroke-width="1"/>
<path d="M233.22 189.07L230.52 194.07L235.92 194.07Z" fill="#1a1aff" stroke="#1a1aff" stroke-width="1"/>
<path d="M238.19 191.61L235.49 196.61L240.89 196.61Z" fill="#1a1aff" stroke="#1a1aff" stroke-width="1"/>
<path d="M243.16 193.61L240.46 198.61L245.86 198.61Z" fill="#1a1aff" stroke="#1a1aff" stroke-width="1"/>
<path d="M248.13 196.09L245.43 201.09L250.83 201.09Z" fill="#1a1aff" stroke="#1a1aff" stroke-width="1"/>
<path d="M253.10 198.26L250.40 203.26L255.80 203.26Z" fill="#1a1aff" stroke="#1a1aff" stroke-width="1"/>
<path d="M260.56 200.75L257.86 205.75L263.25 205.75Z" fill="#1a1aff" stroke="#1a1aff" stroke-width="1"/>
<path d="M270.50 206.08L267.80 211.08L273.19 211.08Z" fill="#1a1aff" stroke="#1a1aff" stroke-width="1"/>
<path d="M280.44 211.73L277.74 216.73L283.13 216.73Z" fill="#1a1aff" stroke="#1a1aff" stroke-width="1"/>
<path d="M290.38 216.58L287.68 221.58L293.07 221.58Z" fill="#1a1aff" stroke="#1a1aff" stroke-width="1"/>
<path d="M300.31 221.99L297.62 226.99L303.01 226.99Z" fill="#1a1aff" stroke="#1a1aff" stroke-width="1"/>
<path d="M310.25 228.89L307.56 233.89L312.95 233.89Z" fill="#1a1aff" stroke="#1a1aff" stroke-width="1"/>
<path d="M320.19 235.45L317.50 240.45L322.89 240.45Z" fill="#1a1aff" stroke="#1a1aff" stroke-width="1"/>
<path d="M330.13 240.87L327.44 245.87L332.83 245.87Z" fill="#1a1aff" stroke="#1a1aff" stroke-width="1"/>
<path d="M340.07 246.68L337.38 251.68L342.77 251.68Z" fill="#1a1aff" stroke="#1a1aff" stroke-width="1"/>
<path d="M350.01 252.96L347.31 257.96L352.71 257.96Z" fill="#1a1aff" stroke="#1a1aff" stroke-width="1"/>
<path d="M359.95 261.15L357.25 266.15L362.65 266.15Z" fill="#1a1aff" stroke="#1a1aff" stroke-width="1"/>
<polyline points="54.30,181.00 59.27,168.40 64.24,151.80 69.21,140.00 74.18,131.30 79.15,125.00 84.12,121.10 89.09,119.10 94.06,118.70 99.03,119.10 104.00,122.10 108.97,125.10 113.94,128.70 118.91,133.50 123.88,138.90 128.85,145.30 133.82,151.90 138.79,158.50 143.76,164.90 148.73,171.50 153.70,177.10 158.67,181.80 163.64,187.30 168.61,191.10 173.58,194.00 178.55,197.80 183.52,200.00 188.49,203.20 193.46,205.70 198.43,207.00 203.40,209.80 208.37,211.80 213.34,213.30 218.31,215.40 223.28,217.20 228.25,219.40 233.22,222.00 238.19,223.70 243.16,224.90 248.13,226.50 253.10,228.70 260.56,231.90 270.50,236.00 280.44,240.40 290.38,243.20 300.31,247.80 310.25,253.30 320.19,256.00 330.13,261.00 340.07,265.50 350.01,269.60 359.95,272.30" fill="none" stroke="#ff0000" stroke-width="1.0" stroke-dasharray="1.3,1.1"/>
<path d="M54.30 178.10L56.40 181.00L54.30 183.90L52.20 181.00Z" fill="#ff0000" stroke="#ff0000" stroke-width="0.6"/>
<path d="M59.27 165.50L61.37 168.40L59.27 171.30L57.17 168.40Z" fill="#ff0000" stroke="#ff0000" stroke-width="0.6"/>
<path d="M64.24 148.90L66.34 151.80L64.24 154.70L62.14 151.80Z" fill="#ff0000" stroke="#ff0000" stroke-width="0.6"/>
<path d="M69.21 137.10L71.31 140.00L69.21 142.90L67.11 140.00Z" fill="#ff0000" stroke="#ff0000" stroke-width="0.6"/>
<path d="M74.18 128.40L76.28 131.30L74.18 134.20L72.08 131.30Z" fill="#ff0000" stroke="#ff0000" stroke-width="0.6"/>
<path d="M79.15 122.10L81.25 125.00L79.15 127.90L77.05 125.00Z" fill="#ff0000" stroke="#ff0000" stroke-width="0.6"/>
<path d="M84.12 118.20L86.22 121.10L84.12 124.00L82.02 121.10Z" fill="#ff0000" stroke="#ff0000" stroke-width="0.6"/>
<path d="M89.09 116.20L91.19 119.10L89.09 122.00L86.99 119.10Z" fill="#ff0000" stroke="#ff0000" stroke-width="0.6"/>
<path d="M94.06 115.80L96.16 118.70L94.06 121.60L91.96 118.70Z" fill="#ff0000" stroke="#ff0000" stroke-width="0.6"/>
<path d="M99.03 116.20L101.13 119.10L99.03 122.00L96.93 119.10Z" fill="#ff0000" stroke="#ff0000" stroke-width="0.6"/>
<path d="M104.00 119.20L106.10 122.10L104.00 125.00L101.90 122.10Z" fill="#ff0000" stroke="#ff0000" stroke-width="0.6"/>
<path d="M108.97 122.20L111.07 125.10L108.97 128.00L106.87 125.10Z" fill="#ff0000" stroke="#ff0000" stroke-width="0.6"/>
<path d="M113.94 125.80L116.04 128.70L113.94 131.60L111.84 128.70Z" fill="#ff0000" stroke="#ff0000" stroke-width="0.6"/>
<path d="M118.91 130.60L121.01 133.50L118.91 136.40L116.81 133.50Z" fill="#ff0000" stroke="#ff0000" stroke-width="0.6"/>
<path d="M123.88 136.00L125.98 138.90L123.88 141.80L121.78 138.90Z" fill="#ff0000" stroke="#ff0000" stroke-width="0.6"/>
<path d="M128.85 142.40L130.95 145.30L128.85 148.20L126.75 145.30Z" fill="#ff0000" stroke="#ff0000" stroke-width="0.6"/>
<path d="M133.82 149.00L135.92 151.90L133.82 154.80L131.72 151.90Z" fill="#ff0000" stroke="#ff0000" stroke-width="0.6"/>
<path d="M138.79 155.60L140.89 158.50L138.79 161.40L136.69 158.50Z" fill="#ff0000" stroke="#ff0000" stroke-width="0.6"/>
<path d="M143.76 162.00L145.86 164.90L143.76 167.80L141.66 164.90Z" fill="#ff0000" stroke="#ff0000" stroke-width="0.6"/>
<path d="M148.73 168.60L150.83 171.50L148.73 174.40L146.63 171.50Z" fill="#ff0000" stroke="#ff0000" stroke-width="0.6"/>
<path d="M153.70 174.20L155.80 177.10L153.70 180.00L151.60 177.10Z" fill="#ff0000" stroke="#ff0000" stroke-width="0.6"/>
<path d="M158.67 178.90L160.77 181.80L158.67 184.70L156.57 181.80Z" fill="#ff0000" stroke="#ff0000" stroke-width="0.6"/>
<path d="M163.64 184.40L165.74 187.30L163.64 190.20L161.54 187.30Z" fill="#ff0000" stroke="#ff0000" stroke-width="0.6"/>
<path d="M168.61 188.20L170.71 191.10L168.61 194.00L166.51 191.10Z" fill="#ff0000" stroke="#ff0000" stroke-width="0.6"/>
<path d="M173.58 191.10L175.68 194.00L173.58 196.90L171.48 194.00Z" fill="#ff0000" stroke="#ff0000" stroke-width="0.6"/>
<path d="M178.55 194.90L180.65 197.80L178.55 200.70L176.45 197.80Z" fill="#ff0000" stroke="#ff0000" stroke-width="0.6"/>
<path d="M183.52 197.10L185.62 200.00L183.52 202.90L181.42 200.00Z" fill="#ff0000" stroke="#ff0000" stroke-width="0.6"/>
<path d="M188.49 200.30L190.59 203.20L188.49 206.10L186.39 203.20Z" fill="#ff0000" stroke="#ff0000" stroke-width="0.6"/>
<path d="M193.46 202.80L195.56 205.70L193.46 208.60L191.36 205.70Z" fill="#ff0000" stroke="#ff0000" stroke-width="0.6"/>
<path d="M198.43 204.10L200.53 207.00L198.43 209.90L196.33 207.00Z" fill="#ff0000" stroke="#ff0000" stroke-width="0.6"/>
<path d="M203.40 206.90L205.50 209.80L203.40 212.70L201.30 209.80Z" fill="#ff0000" stroke="#ff0000" stroke-width="0.6"/>
<path d="M208.37 208.90L210.47 211.80L208.37 214.70L206.27 211.80Z" fill="#ff0000" stroke="#ff0000" stroke-width="0.6"/>
<path d="M213.34 210.40L215.44 213.30L213.34 216.20L211.24 213.30Z" fill="#ff0000" stroke="#ff0000" stroke-width="0.6"/>
<path d="M218.31 212.50L220.41 215.40L218.31 218.30L216.21 215.40Z" fill="#ff0000" stroke="#ff0000" stroke-width="0.6"/>
<path d="M223.28 214.30L225.38 217.20L223.28 220.10L221.18 217.20Z" fill="#ff0000" stroke="#ff0000" stroke-width="0.6"/>
<path d="M228.25 216.50L230.35 219.40L228.25 222.30L226.15 219.40Z" fill="#ff0000" stroke="#ff0000" stroke-width="0.6"/>
<path d="M233.22 219.10L235.32 222.00L233.22 224.90L231.12 222.00Z" fill="#ff0000" stroke="#ff0000" stroke-width="0.6"/>
<path d="M238.19 220.80L240.29 223.70L238.19 226.60L236.09 223.70Z" fill="#ff0000" stroke="#ff0000" stroke-width="0.6"/>
<path d="M243.16 222.00L245.26 224.90L243.16 227.80L241.06 224.90Z" fill="#ff0000" stroke="#ff0000" stroke-width="0.6"/>
<path d="M248.13 223.60L250.23 226.50L248.13 229.40L246.03 226.50Z" fill="#ff0000" stroke="#ff0000" stroke-width="0.6"/>
<path d="M253.10 225.80L255.20 228.70L253.10 231.60L251.00 228.70Z" fill="#ff0000" stroke="#ff0000" stroke-width="0.6"/>
<path d="M260.56 229.00L262.66 231.90L260.56 234.80L258.45 231.90Z" fill="#ff0000" stroke="#ff0000" stroke-width="0.6"/>
<path d="M270.50 233.10L272.60 236.00L270.50 238.90L268.39 236.00Z" fill="#ff0000" stroke="#ff0000" stroke-width="0.6"/>
<path d="M280.44 237.50L282.54 240.40L280.44 243.30L278.33 240.40Z" fill="#ff0000" stroke="#ff0000" stroke-width="0.6"/>
<path d="M290.38 240.30L292.48 243.20L290.38 246.10L288.27 243.20Z" fill="#ff0000" stroke="#ff0000" stroke-width="0.6"/>
<path d="M300.31 244.90L302.42 247.80L300.31 250.70L298.21 247.80Z" fill="#ff0000" stroke="#ff0000" stroke-width="0.6"/>
<path d="M310.25 250.40L312.36 253.30L310.25 256.20L308.15 253.30Z" fill="#ff0000" stroke="#ff0000" stroke-width="0.6"/>
<path d="M320.19 253.10L322.30 256.00L320.19 258.90L318.09 256.00Z" fill="#ff0000" stroke="#ff0000" stroke-width="0.6"/>
<path d="M330.13 258.10L332.24 261.00L330.13 263.90L328.03 261.00Z" fill="#ff0000" stroke="#ff0000" stroke-width="0.6"/>
<path d="M340.07 262.60L342.18 265.50L340.07 268.40L337.97 265.50Z" fill="#ff0000" stroke="#ff0000" stroke-width="0.6"/>
<path d="M350.01 266.70L352.12 269.60L350.01 272.50L347.91 269.60Z" fill="#ff0000" stroke="#ff0000" stroke-width="0.6"/>
<path d="M359.95 269.40L362.06 272.30L359.95 275.20L357.85 272.30Z" fill="#ff0000" stroke="#ff0000" stroke-width="0.6"/>
</g>
<path d="M45.50 17.50H370.80V477.80H45.50Z" fill="none" stroke="#000" stroke-width="1.3"/>
<path d="M45.50 317.50H370.80" fill="none" stroke="#000" stroke-width="1.2"/>
<path d="M54.30 17.50V25.50M54.30 317.50V309.50M54.30 317.50V323.00M54.30 477.80V472.30M79.15 17.50V21.50M79.15 317.50V313.50M79.15 317.50V320.00M79.15 477.80V475.30M104.00 17.50V21.50M104.00 317.50V313.50M104.00 317.50V320.00M104.00 477.80V475.30M128.85 17.50V21.50M128.85 317.50V313.50M128.85 317.50V320.00M128.85 477.80V475.30M153.70 17.50V25.50M153.70 317.50V309.50M153.70 317.50V323.00M153.70 477.80V472.30M178.55 17.50V21.50M178.55 317.50V313.50M178.55 317.50V320.00M178.55 477.80V475.30M203.40 17.50V21.50M203.40 317.50V313.50M203.40 317.50V320.00M203.40 477.80V475.30M228.25 17.50V21.50M228.25 317.50V313.50M228.25 317.50V320.00M228.25 477.80V475.30M253.10 17.50V25.50M253.10 317.50V309.50M253.10 317.50V323.00M253.10 477.80V472.30M277.95 17.50V21.50M277.95 317.50V313.50M277.95 317.50V320.00M277.95 477.80V475.30M302.80 17.50V21.50M302.80 317.50V313.50M302.80 317.50V320.00M302.80 477.80V475.30M327.65 17.50V21.50M327.65 317.50V313.50M327.65 317.50V320.00M327.65 477.80V475.30M352.50 17.50V25.50M352.50 317.50V309.50M352.50 317.50V323.00M352.50 477.80V472.30M45.50 315.02H51.00M370.80 315.02H365.30M45.50 312.80H56.50M370.80 312.80H359.80M45.50 298.16H51.00M370.80 298.16H365.30M45.50 289.60H51.00M370.80 289.60H365.30M45.50 283.53H51.00M370.80 283.53H365.30M45.50 278.82H51.00M370.80 278.82H365.30M45.50 274.97H51.00M370.80 274.97H365.30M45.50 271.71H51.00M370.80 271.71H365.30M45.50 268.89H51.00M370.80 268.89H365.30M45.50 266.40H51.00M370.80 266.40H365.30M45.50 264.18H56.50M370.80 264.18H359.80M45.50 249.54H51.00M370.80 249.54H365.30M45.50 240.98H51.00M370.80 240.98H365.30M45.50 234.91H51.00M370.80 234.91H365.30M45.50 230.20H51.00M370.80 230.20H365.30M45.50 226.35H51.00M370.80 226.35H365.30M45.50 223.09H51.00M370.80 223.09H365.30M45.50 220.27H51.00M370.80 220.27H365.30M45.50 217.78H51.00M370.80 217.78H365.30M45.50 215.56H56.50M370.80 215.56H359.80M45.50 200.92H51.00M370.80 200.92H365.30M45.50 192.36H51.00M370.80 192.36H365.30M45.50 186.29H51.00M370.80 186.29H365.30M45.50 181.58H51.00M370.80 181.58H365.30M45.50 177.73H51.00M370.80 177.73H365.30M45.50 174.47H51.00M370.80 174.47H365.30M45.50 171.65H51.00M370.80 171.65H365.30M45.50 169.16H51.00M370.80 169.16H365.30M45.50 166.94H56.50M370.80 166.94H359.80M45.50 152.30H51.00M370.80 152.30H365.30M45.50 143.74H51.00M370.80 143.74H365.30M45.50 137.67H51.00M370.80 137.67H365.30M45.50 132.96H51.00M370.80 132.96H365.30M45.50 129.11H51.00M370.80 129.11H365.30M45.50 125.85H51.00M370.80 125.85H365.30M45.50 123.03H51.00M370.80 123.03H365.30M45.50 120.54H51.00M370.80 120.54H365.30M45.50 118.32H56.50M370.80 118.32H359.80M45.50 103.68H51.00M370.80 103.68H365.30M45.50 95.12H51.00M370.80 95.12H365.30M45.50 89.05H51.00M370.80 89.05H365.30M45.50 84.34H51.00M370.80 84.34H365.30M45.50 80.49H51.00M370.80 80.49H365.30M45.50 77.23H51.00M370.80 77.23H365.30M45.50 74.41H51.00M370.80 74.41H365.30M45.50 71.92H51.00M370.80 71.92H365.30M45.50 69.70H56.50M370.80 69.70H359.80M45.50 55.06H51.00M370.80 55.06H365.30M45.50 46.50H51.00M370.80 46.50H365.30M45.50 40.43H51.00M370.80 40.43H365.30M45.50 35.72H51.00M370.80 35.72H365.30M45.50 31.87H51.00M370.80 31.87H365.30M45.50 28.61H51.00M370.80 28.61H365.30M45.50 25.79H51.00M370.80 25.79H365.30M45.50 23.30H51.00M370.80 23.30H365.30M45.50 21.08H56.50M370.80 21.08H359.80M45.50 458.30H53.00M370.80 458.30H363.30M45.50 442.36H50.50M370.80 442.36H365.80M45.50 428.88H50.50M370.80 428.88H365.80M45.50 417.21H50.50M370.80 417.21H365.80M45.50 406.91H50.50M370.80 406.91H365.80M45.50 397.70H53.00M370.80 397.70H363.30M45.50 389.37H50.50M370.80 389.37H365.80M45.50 381.76H50.50M370.80 381.76H365.80M45.50 374.76H50.50M370.80 374.76H365.80M45.50 368.28H50.50M370.80 368.28H365.80M45.50 362.25H50.50M370.80 362.25H365.80M45.50 356.61H50.50M370.80 356.61H365.80M45.50 351.31H50.50M370.80 351.31H365.80M45.50 346.31H50.50M370.80 346.31H365.80M45.50 341.58H50.50M370.80 341.58H365.80M45.50 337.10H53.00M370.80 337.10H363.30M45.50 332.83H50.50M370.80 332.83H365.80M45.50 328.77H50.50M370.80 328.77H365.80M45.50 324.88H50.50M370.80 324.88H365.80M45.50 321.16H50.50M370.80 321.16H365.80M45.50 317.59H50.50M370.80 317.59H365.80" stroke="#000" stroke-width="1" fill="none"/>
<text x="51.2" y="14.3" font-size="12.00" text-anchor="start" fill="#000">2360 GeV pp</text>
<text x="366.3" y="14.2" font-size="12.00" text-anchor="end" fill="#000">Soft QCD</text>
<text x="81.7" y="43.3" font-size="11.8">Charged multiplicity, <tspan dx="1.6">|</tspan><tspan dx="-1.6">η|&lt;1.3 ,√s=2.36 TeV (INEL)</tspan></text>
<path d="M235.4 34.7H243.6" stroke="#000" stroke-width="0.9"/>
<text x="39.7" y="24.7" font-size="10.20" text-anchor="end" fill="#000">10</text>
<text x="39.7" y="73.3" font-size="10.20" text-anchor="end" fill="#000">1</text>
<text x="40.2" y="123.0" font-size="10.2" text-anchor="end">10<tspan dy="-4.9" font-size="7.6">−1</tspan></text>
<text x="40.2" y="171.6" font-size="10.2" text-anchor="end">10<tspan dy="-4.9" font-size="7.6">−2</tspan></text>
<text x="40.2" y="220.3" font-size="10.2" text-anchor="end">10<tspan dy="-4.9" font-size="7.6">−3</tspan></text>
<text x="40.2" y="268.9" font-size="10.2" text-anchor="end">10<tspan dy="-4.9" font-size="7.6">−4</tspan></text>
<text x="40.2" y="317.5" font-size="10.2" text-anchor="end">10<tspan dy="-4.9" font-size="7.6">−5</tspan></text>
<text x="38.2" y="340.9" font-size="10.60" text-anchor="end" fill="#000">2</text>
<text x="38.2" y="401.5" font-size="10.60" text-anchor="end" fill="#000">1</text>
<text x="38.2" y="462.1" font-size="10.60" text-anchor="end" fill="#000">0.5</text>
<text x="54.30" y="489" font-size="10.2" text-anchor="middle" transform="translate(54.30 0) scale(1.12 1) translate(-54.30 0)">0</text>
<text x="153.70" y="489" font-size="10.2" text-anchor="middle" transform="translate(153.70 0) scale(1.12 1) translate(-153.70 0)">20</text>
<text x="253.10" y="489" font-size="10.2" text-anchor="middle" transform="translate(253.10 0) scale(1.12 1) translate(-253.10 0)">40</text>
<text x="352.50" y="489" font-size="10.2" text-anchor="middle" transform="translate(352.50 0) scale(1.12 1) translate(-352.50 0)">60</text>
<text transform="translate(15,58.6) rotate(-90)" font-size="11.5">dN/dN<tspan dy="4" font-size="8">ch</tspan></text>
<text transform="translate(18.4,426.4) rotate(-90)" font-size="9">Ratio to ALICE</text>
<text x="354.2" y="501.8" font-size="11.8">N<tspan dy="4" font-size="8">ch</tspan></text>
<text transform="translate(381,127.5) rotate(-90)" font-size="9.4" fill="#808080">Rivet 4.1.0, ≥ 400k events</text>
<text transform="translate(381,313) rotate(-90)" font-size="9.4" fill="#808080">mcplots.cern.ch [arXiv:2401.10621]</text>
<text x="166.8" y="302.8" font-size="7.90" text-anchor="start" fill="#aaaaaa">(ALICE_2010_I852450)</text>
<rect x="73.6" y="207.8" width="5.6" height="5.6" fill="#000"/>
<line x1="64" y1="223.8" x2="88.7" y2="223.8" stroke="#ff8c8c" stroke-width="1.0"/>
<path d="M76.30 221.10L78.40 223.80L76.30 226.50L74.20 223.80Z" fill="none" stroke="#ff8c8c" stroke-width="1"/>
<line x1="64" y1="237.0" x2="88.7" y2="237.0" stroke="#3a9a3a" stroke-width="1.0" stroke-dasharray="3,2.5"/>
<rect x="73.70" y="234.40" width="5.20" height="5.20" fill="none" stroke="#3a9a3a" stroke-width="1.2"/>
<line x1="64" y1="250.2" x2="88.7" y2="250.2" stroke="#992233" stroke-width="1.0"/>
<path d="M76.30 247.12L73.30 252.72L79.30 252.72Z" fill="none" stroke="#992233" stroke-width="1"/>
<line x1="64" y1="263.4" x2="88.7" y2="263.4" stroke="#1a1aff" stroke-width="1.0"/>
<path d="M76.30 260.65L73.60 265.65L79.00 265.65Z" fill="#1a1aff" stroke="#1a1aff" stroke-width="1"/>
<line x1="64" y1="276.7" x2="88.7" y2="276.7" stroke="#ff0000" stroke-width="1.0" stroke-dasharray="1.3,1.1"/>
<path d="M76.30 273.80L78.40 276.70L76.30 279.60L74.20 276.70Z" fill="#ff0000" stroke="#ff0000" stroke-width="0.6"/>
<text x="94.1" y="213.9" font-size="9.40" text-anchor="start" fill="#000">ALICE</text>
<text x="94.1" y="227.1" font-size="9.40" text-anchor="start" fill="#000">Epos 1.99.crmc.1.6.0 lhc</text>
<text x="94.1" y="240.3" font-size="9.40" text-anchor="start" fill="#000">Herwig 7.2.1 default</text>
<text x="94.1" y="253.5" font-size="9.40" text-anchor="start" fill="#000">Pythia 6.427 370</text>
<text x="94.1" y="266.7" font-size="9.40" text-anchor="start" fill="#000">Pythia 8.315 default</text>
<text x="94.1" y="280.0" font-size="9.40" text-anchor="start" fill="#000">Sherpa 2.2.9 default</text>
</svg></body></html>
